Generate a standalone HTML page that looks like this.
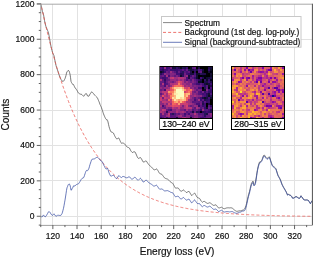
<!DOCTYPE html>
<html><head><meta charset="utf-8"><style>
html,body{margin:0;padding:0;background:#fff;width:313px;height:257px;overflow:hidden}
svg{display:block;font-family:"Liberation Sans",sans-serif;will-change:transform}
text{stroke:#000;stroke-width:0.18px;paint-order:stroke}
</style></head><body>
<svg width="313" height="257" viewBox="0 0 313 257">
<g stroke="#e2e2e2" stroke-width="1" shape-rendering="crispEdges"><line x1="52.85" y1="3.85" x2="52.85" y2="225.10"/><line x1="77.02" y1="3.85" x2="77.02" y2="225.10"/><line x1="101.19" y1="3.85" x2="101.19" y2="225.10"/><line x1="125.36" y1="3.85" x2="125.36" y2="225.10"/><line x1="149.53" y1="3.85" x2="149.53" y2="225.10"/><line x1="173.70" y1="3.85" x2="173.70" y2="225.10"/><line x1="197.87" y1="3.85" x2="197.87" y2="225.10"/><line x1="222.04" y1="3.85" x2="222.04" y2="225.10"/><line x1="246.21" y1="3.85" x2="246.21" y2="225.10"/><line x1="270.38" y1="3.85" x2="270.38" y2="225.10"/><line x1="294.55" y1="3.85" x2="294.55" y2="225.10"/><line x1="40.77" y1="216.25" x2="312.68" y2="216.25"/><line x1="40.77" y1="180.85" x2="312.68" y2="180.85"/><line x1="40.77" y1="145.45" x2="312.68" y2="145.45"/><line x1="40.77" y1="110.05" x2="312.68" y2="110.05"/><line x1="40.77" y1="74.65" x2="312.68" y2="74.65"/><line x1="40.77" y1="39.25" x2="312.68" y2="39.25"/></g><defs><clipPath id="cp"><rect x="40.77" y="3.85" width="271.91" height="221.25"/></clipPath></defs><g clip-path="url(#cp)" fill="none" stroke-linejoin="round"><path d="M40.50,2.74 L41.00,4.83 L41.50,7.27 L42.00,9.69 L42.50,11.66 L43.00,12.98 L43.50,14.52 L44.00,17.45 L44.50,20.36 L45.00,23.05 L45.50,24.95 L46.00,26.70 L46.50,27.91 L47.00,29.10 L47.50,30.28 L48.00,31.51 L48.50,32.91 L49.00,35.37 L49.50,38.10 L50.00,41.02 L50.50,43.84 L51.00,46.40 L51.50,48.64 L52.00,50.55 L52.50,52.44 L53.00,53.60 L53.50,54.64 L54.00,55.78 L54.50,58.30 L55.00,60.87 L55.50,63.44 L56.00,65.44 L56.50,67.29 L57.00,68.75 L57.50,69.94 L58.00,71.65 L58.50,73.23 L59.00,74.63 L59.50,76.01 L60.00,77.13 L60.50,78.25 L61.00,79.47 L61.50,80.10 L62.00,80.95 L62.50,81.26 L63.00,81.21 L63.50,81.18 L64.00,80.58 L64.50,79.58 L65.00,78.60 L65.50,77.15 L66.00,75.41 L66.50,73.14 L67.00,71.59 L67.50,71.28 L68.00,70.58 L68.50,70.49 L69.00,70.92 L69.50,72.31 L70.00,74.22 L70.50,77.30 L71.00,81.37 L71.50,82.56 L72.00,83.25 L72.50,84.22 L73.00,84.80 L73.50,84.60 L74.00,85.65 L74.50,86.74 L75.00,87.89 L75.50,88.22 L76.00,88.91 L76.50,89.66 L77.00,90.41 L77.50,91.37 L78.00,92.33 L78.50,93.09 L79.00,93.50 L79.50,93.74 L80.00,93.97 L80.50,94.18 L81.00,94.24 L81.50,94.38 L82.00,94.67 L82.50,95.24 L83.00,95.76 L83.50,96.25 L84.00,96.05 L84.50,95.24 L85.00,94.47 L85.50,93.78 L86.00,93.50 L86.50,93.72 L87.00,94.84 L87.50,95.95 L88.00,96.34 L88.50,96.23 L89.00,96.09 L89.50,95.01 L90.00,94.08 L90.50,93.40 L91.00,92.69 L91.50,91.95 L92.00,91.85 L92.50,92.45 L93.00,93.05 L93.50,93.66 L94.00,94.30 L94.50,94.98 L95.00,95.40 L95.50,95.90 L96.00,96.39 L96.50,96.86 L97.00,97.31 L97.50,98.07 L98.00,99.28 L98.50,100.48 L99.00,101.67 L99.50,102.88 L100.00,104.46 L100.50,105.49 L101.00,106.57 L101.50,107.77 L102.00,109.28 L102.50,110.67 L103.00,112.36 L103.50,113.88 L104.00,115.11 L104.50,116.28 L105.00,117.40 L105.50,118.40 L106.00,119.29 L106.50,119.72 L107.00,119.43 L107.50,120.31 L108.00,121.94 L108.50,124.25 L109.00,126.49 L109.50,128.24 L110.00,129.67 L110.50,131.05 L111.00,131.86 L111.50,132.05 L112.00,132.20 L112.50,132.41 L113.00,132.66 L113.50,133.13 L114.00,134.30 L114.50,135.40 L115.00,136.42 L115.50,137.37 L116.00,138.30 L116.50,138.70 L117.00,139.03 L117.50,138.66 L118.00,138.36 L118.50,138.07 L119.00,138.22 L119.50,139.38 L120.00,140.55 L120.50,141.72 L121.00,142.75 L121.50,143.24 L122.00,143.19 L122.50,143.02 L123.00,142.97 L123.50,143.20 L124.00,143.43 L124.50,143.81 L125.00,144.37 L125.50,145.05 L126.00,145.73 L126.50,146.41 L127.00,146.99 L127.50,147.20 L128.00,147.38 L128.50,147.52 L129.00,147.83 L129.50,148.17 L130.00,149.14 L130.50,150.25 L131.00,151.07 L131.50,151.69 L132.00,152.28 L132.50,152.51 L133.00,152.21 L133.50,151.91 L134.00,151.84 L134.50,151.84 L135.00,151.88 L135.50,152.86 L136.00,153.94 L136.50,155.08 L137.00,156.30 L137.50,157.48 L138.00,158.13 L138.50,158.38 L139.00,158.17 L139.50,157.93 L140.00,157.66 L140.50,157.57 L141.00,158.23 L141.50,158.93 L142.00,159.92 L142.50,160.88 L143.00,161.83 L143.50,161.96 L144.00,161.91 L144.50,161.74 L145.00,161.36 L145.50,161.00 L146.00,160.85 L146.50,161.26 L147.00,162.05 L147.50,162.83 L148.00,163.61 L148.50,164.39 L149.00,164.94 L149.50,165.43 L150.00,165.86 L150.50,166.27 L151.00,166.67 L151.50,167.07 L152.00,167.62 L152.50,168.20 L153.00,168.81 L153.50,169.43 L154.00,169.88 L154.50,169.83 L155.00,169.71 L155.50,169.50 L156.00,169.22 L156.50,168.90 L157.00,169.23 L157.50,169.93 L158.00,170.72 L158.50,171.61 L159.00,172.56 L159.50,173.31 L160.00,173.66 L160.50,173.83 L161.00,174.01 L161.50,174.20 L162.00,174.40 L162.50,175.16 L163.00,175.88 L163.50,176.55 L164.00,177.22 L164.50,177.89 L165.00,178.27 L165.50,178.45 L166.00,178.62 L166.50,178.78 L167.00,178.92 L167.50,179.12 L168.00,179.54 L168.50,179.97 L169.00,180.39 L169.50,180.81 L170.00,181.45 L170.50,181.88 L171.00,182.24 L171.50,182.60 L172.00,182.90 L172.50,183.18 L173.00,183.71 L173.50,184.66 L174.00,185.60 L174.50,186.54 L175.00,187.36 L175.50,188.14 L176.00,188.11 L176.50,188.07 L177.00,188.01 L177.50,187.95 L178.00,187.94 L178.50,188.35 L179.00,189.04 L179.50,189.73 L180.00,190.42 L180.50,191.07 L181.00,191.44 L181.50,191.16 L182.00,190.87 L182.50,190.55 L183.00,190.22 L183.50,189.90 L184.00,190.26 L184.50,190.78 L185.00,191.29 L185.50,191.80 L186.00,192.31 L186.50,192.51 L187.00,192.25 L187.50,191.99 L188.00,191.74 L188.50,191.49 L189.00,191.27 L189.50,192.12 L190.00,192.92 L190.50,193.74 L191.00,194.57 L191.50,195.40 L192.00,195.50 L192.50,194.99 L193.00,194.44 L193.50,193.90 L194.00,193.35 L194.50,193.02 L195.00,193.54 L195.50,194.43 L196.00,195.33 L196.50,196.25 L197.00,197.16 L197.50,197.54 L198.00,197.78 L198.50,197.99 L199.00,198.20 L199.50,198.41 L200.00,198.94 L200.50,199.95 L201.00,200.86 L201.50,201.36 L202.00,201.84 L202.50,202.29 L203.00,201.91 L203.50,201.51 L204.00,201.32 L204.50,201.44 L205.00,201.56 L205.50,201.95 L206.00,202.52 L206.50,203.09 L207.00,203.35 L207.50,203.41 L208.00,203.41 L208.50,203.20 L209.00,202.99 L209.50,202.75 L210.00,202.90 L210.50,203.12 L211.00,203.50 L211.50,203.92 L212.00,204.34 L212.50,204.74 L213.00,205.14 L213.50,205.36 L214.00,205.31 L214.50,205.26 L215.00,205.09 L215.50,204.92 L216.00,204.80 L216.50,205.43 L217.00,206.07 L217.50,206.73 L218.00,207.33 L218.50,207.93 L219.00,208.07 L219.50,207.90 L220.00,207.73 L220.50,207.55 L221.00,207.34 L221.50,207.22 L222.00,207.58 L222.50,207.90 L223.00,208.20 L223.50,208.50 L224.00,208.80 L224.50,208.71 L225.00,208.53 L225.50,208.34 L226.00,208.16 L226.50,207.97 L227.00,207.86 L227.50,207.84 L228.00,207.83 L228.50,207.81 L229.00,207.81 L229.50,207.90 L230.00,207.81 L230.50,207.79 L231.00,207.82 L231.50,207.89 L232.00,207.98 L232.50,208.29 L233.00,208.73 L233.50,209.18 L234.00,209.63 L234.50,210.07 L235.00,210.49 L235.50,210.76 L236.00,211.03 L236.50,211.27 L237.00,211.50 L237.50,211.25 L238.00,211.12 L238.50,211.02 L239.00,210.92 L239.50,210.82 L240.00,210.79 L240.50,210.87 L241.00,210.72 L241.50,210.57 L242.00,210.41 L242.50,210.21 L243.00,209.92 L243.50,209.90 L244.00,209.44 L244.50,209.02 L245.00,208.28 L245.50,206.98 L246.00,205.43 L246.50,203.70 L247.00,201.44 L247.50,199.18 L248.00,196.92 L248.50,194.85 L249.00,193.14 L249.50,191.43 L250.00,189.22 L250.50,187.01 L251.00,185.03 L251.50,183.15 L252.00,182.45 L252.50,181.75 L253.00,181.05 L253.50,183.42 L254.00,184.64 L254.50,184.14 L255.00,183.65 L255.50,182.09 L256.00,178.93 L256.50,175.75 L257.00,172.26 L257.50,169.41 L258.00,167.00 L258.50,165.04 L259.00,163.38 L259.50,162.04 L260.00,161.77 L260.50,161.50 L261.00,161.23 L261.50,160.55 L262.00,159.73 L262.50,158.32 L263.00,156.94 L263.50,155.56 L264.00,155.08 L264.50,155.19 L265.00,155.87 L265.50,156.69 L266.00,157.33 L266.50,157.85 L267.00,158.37 L267.50,158.34 L268.00,157.76 L268.50,157.18 L269.00,156.61 L269.50,157.10 L270.00,158.30 L270.50,159.96 L271.00,161.51 L271.50,162.98 L272.00,164.45 L272.50,165.45 L273.00,166.04 L273.50,166.43 L274.00,166.82 L274.50,167.21 L275.00,167.61 L275.50,168.09 L276.00,168.84 L276.50,170.46 L277.00,172.08 L277.50,173.70 L278.00,175.21 L278.50,176.12 L279.00,177.00 L279.50,177.88 L280.00,178.82 L280.50,179.99 L281.00,181.31 L281.50,182.84 L282.00,184.16 L282.50,185.16 L283.00,186.15 L283.50,187.15 L284.00,187.86 L284.50,188.75 L285.00,189.64 L285.50,190.53 L286.00,191.38 L286.50,192.43 L287.00,193.61 L287.50,194.78 L288.00,194.73 L288.50,194.15 L289.00,194.62 L289.50,194.83 L290.00,195.04 L290.50,195.25 L291.00,195.54 L291.50,196.14 L292.00,197.02 L292.50,197.98 L293.00,198.09 L293.50,197.99 L294.00,197.88 L294.50,197.56 L295.00,196.89 L295.50,196.73 L296.00,196.71 L296.50,196.68 L297.00,196.65 L297.50,197.42 L298.00,197.75 L298.50,197.97 L299.00,198.18 L299.50,198.29 L300.00,197.68 L300.50,196.70 L301.00,195.72 L301.50,196.80 L302.00,197.46 L302.50,197.65 L303.00,198.53 L303.50,199.42 L304.00,199.64 L304.50,199.86 L305.00,200.08 L305.50,199.99 L306.00,199.82 L306.50,199.91 L307.00,200.00 L307.50,200.09 L308.00,200.24 L308.50,200.47 L309.00,201.42 L309.50,202.37 L310.00,203.32 L310.50,203.46 L311.00,202.47 L311.50,201.48 L312.00,200.72 L312.50,200.30 L313.00,199.89 L313.50,199.95" stroke="#444" stroke-width="0.7"/><path d="M40.50,2.07 L41.50,6.78 L42.50,11.39 L43.50,15.89 L44.50,20.30 L45.50,24.61 L46.50,28.82 L47.50,32.94 L48.50,36.98 L49.50,40.92 L50.50,44.78 L51.50,48.55 L52.50,52.24 L53.50,55.85 L54.50,59.38 L55.50,62.83 L56.50,66.21 L57.50,69.51 L58.50,72.74 L59.50,75.90 L60.50,78.99 L61.50,82.01 L62.50,84.97 L63.50,87.86 L64.50,90.69 L65.50,93.45 L66.50,96.16 L67.50,98.80 L68.50,101.39 L69.50,103.92 L70.50,106.40 L71.50,108.82 L72.50,111.19 L73.50,113.50 L74.50,115.77 L75.50,117.98 L76.50,120.15 L77.50,122.27 L78.50,124.34 L79.50,126.37 L80.50,128.36 L81.50,130.30 L82.50,132.19 L83.50,134.05 L84.50,135.86 L85.50,137.64 L86.50,139.38 L87.50,141.07 L88.50,142.73 L89.50,144.36 L90.50,145.95 L91.50,147.50 L92.50,149.02 L93.50,150.51 L94.50,151.96 L95.50,153.39 L96.50,154.78 L97.50,156.14 L98.50,157.47 L99.50,158.77 L100.50,160.04 L101.50,161.29 L102.50,162.51 L103.50,163.70 L104.50,164.86 L105.50,166.00 L106.50,167.12 L107.50,168.21 L108.50,169.27 L109.50,170.31 L110.50,171.33 L111.50,172.33 L112.50,173.31 L113.50,174.26 L114.50,175.20 L115.50,176.11 L116.50,177.00 L117.50,177.87 L118.50,178.73 L119.50,179.56 L120.50,180.38 L121.50,181.18 L122.50,181.96 L123.50,182.73 L124.50,183.47 L125.50,184.21 L126.50,184.92 L127.50,185.62 L128.50,186.30 L129.50,186.97 L130.50,187.63 L131.50,188.27 L132.50,188.90 L133.50,189.51 L134.50,190.11 L135.50,190.69 L136.50,191.27 L137.50,191.83 L138.50,192.37 L139.50,192.91 L140.50,193.44 L141.50,193.95 L142.50,194.45 L143.50,194.94 L144.50,195.42 L145.50,195.89 L146.50,196.35 L147.50,196.80 L148.50,197.24 L149.50,197.67 L150.50,198.09 L151.50,198.50 L152.50,198.90 L153.50,199.29 L154.50,199.68 L155.50,200.05 L156.50,200.42 L157.50,200.78 L158.50,201.13 L159.50,201.48 L160.50,201.81 L161.50,202.14 L162.50,202.47 L163.50,202.78 L164.50,203.09 L165.50,203.39 L166.50,203.68 L167.50,203.97 L168.50,204.25 L169.50,204.53 L170.50,204.80 L171.50,205.06 L172.50,205.32 L173.50,205.57 L174.50,205.82 L175.50,206.06 L176.50,206.30 L177.50,206.53 L178.50,206.76 L179.50,206.98 L180.50,207.19 L181.50,207.40 L182.50,207.61 L183.50,207.81 L184.50,208.01 L185.50,208.20 L186.50,208.39 L187.50,208.58 L188.50,208.76 L189.50,208.94 L190.50,209.11 L191.50,209.28 L192.50,209.44 L193.50,209.61 L194.50,209.76 L195.50,209.92 L196.50,210.07 L197.50,210.22 L198.50,210.36 L199.50,210.51 L200.50,210.64 L201.50,210.78 L202.50,210.91 L203.50,211.04 L204.50,211.17 L205.50,211.29 L206.50,211.41 L207.50,211.53 L208.50,211.65 L209.50,211.76 L210.50,211.87 L211.50,211.98 L212.50,212.09 L213.50,212.19 L214.50,212.29 L215.50,212.39 L216.50,212.49 L217.50,212.59 L218.50,212.68 L219.50,212.77 L220.50,212.86 L221.50,212.95 L222.50,213.03 L223.50,213.11 L224.50,213.20 L225.50,213.28 L226.50,213.35 L227.50,213.43 L228.50,213.50 L229.50,213.58 L230.50,213.65 L231.50,213.72 L232.50,213.79 L233.50,213.85 L234.50,213.92 L235.50,213.98 L236.50,214.05 L237.50,214.11 L238.50,214.17 L239.50,214.22 L240.50,214.28 L241.50,214.34 L242.50,214.39 L243.50,214.45 L244.50,214.50 L245.50,214.55 L246.50,214.60 L247.50,214.65 L248.50,214.70 L249.50,214.74 L250.50,214.79 L251.50,214.83 L252.50,214.88 L253.50,214.92 L254.50,214.96 L255.50,215.00 L256.50,215.04 L257.50,215.08 L258.50,215.12 L259.50,215.16 L260.50,215.19 L261.50,215.23 L262.50,215.27 L263.50,215.30 L264.50,215.33 L265.50,215.37 L266.50,215.40 L267.50,215.43 L268.50,215.46 L269.50,215.49 L270.50,215.52 L271.50,215.55 L272.50,215.58 L273.50,215.60 L274.50,215.63 L275.50,215.66 L276.50,215.68 L277.50,215.71 L278.50,215.73 L279.50,215.76 L280.50,215.78 L281.50,215.80 L282.50,215.83 L283.50,215.85 L284.50,215.87 L285.50,215.89 L286.50,215.91 L287.50,215.93 L288.50,215.95 L289.50,215.97 L290.50,215.99 L291.50,216.01 L292.50,216.03 L293.50,216.04 L294.50,216.06 L295.50,216.08 L296.50,216.09 L297.50,216.11 L298.50,216.13 L299.50,216.14 L300.50,216.16 L301.50,216.17 L302.50,216.19 L303.50,216.20 L304.50,216.21 L305.50,216.23 L306.50,216.24 L307.50,216.25 L308.50,216.27 L309.50,216.28 L310.50,216.29 L311.50,216.30 L312.50,216.31 L313.50,216.32" stroke="#e8504a" stroke-width="0.75" stroke-dasharray="3.0,2.1"/><path d="M40.50,216.97 L41.00,216.69 L41.50,216.79 L42.00,216.89 L42.50,216.57 L43.00,215.62 L43.50,214.93 L44.00,215.65 L44.50,216.36 L45.00,216.88 L45.50,216.64 L46.00,216.27 L46.50,215.39 L47.00,214.50 L47.50,213.61 L48.00,212.71 L48.50,211.81 L49.00,211.71 L49.50,211.82 L50.00,212.37 L50.50,213.21 L51.00,214.06 L51.50,214.70 L52.00,215.05 L52.50,215.39 L53.00,214.98 L53.50,214.39 L54.00,213.79 L54.50,214.50 L55.00,215.21 L55.50,215.93 L56.00,216.09 L56.50,216.11 L57.00,215.77 L57.50,215.19 L58.00,215.23 L58.50,215.26 L59.00,215.30 L59.50,215.45 L60.00,215.41 L60.50,215.37 L61.00,215.32 L61.50,214.50 L62.00,213.67 L62.50,212.14 L63.00,210.20 L63.50,208.25 L64.00,205.75 L64.50,202.88 L65.00,200.11 L65.50,197.00 L66.00,193.81 L66.50,190.31 L67.00,187.77 L67.50,186.67 L68.00,185.24 L68.50,184.35 L69.00,183.82 L69.50,184.19 L70.00,185.15 L70.50,187.32 L71.00,190.29 L71.50,189.97 L72.00,188.82 L72.50,188.00 L73.00,187.16 L73.50,185.85 L74.00,185.91 L74.50,185.97 L75.00,186.03 L75.50,185.26 L76.00,184.85 L76.50,184.53 L77.00,184.22 L77.50,184.14 L78.00,184.05 L78.50,183.77 L79.00,183.12 L79.50,182.31 L80.00,181.50 L80.50,180.69 L81.00,179.76 L81.50,178.99 L82.00,178.43 L82.50,178.21 L83.00,177.99 L83.50,177.77 L84.00,176.88 L84.50,175.36 L85.00,173.85 L85.50,172.34 L86.00,171.15 L86.50,170.41 L87.00,170.56 L87.50,170.70 L88.00,170.16 L88.50,169.15 L89.00,168.15 L89.50,166.24 L90.00,164.51 L90.50,163.03 L91.00,161.55 L91.50,160.07 L92.00,159.26 L92.50,159.17 L93.00,159.08 L93.50,158.99 L94.00,158.90 L94.50,158.80 L95.00,158.43 L95.50,158.11 L96.00,157.80 L96.50,157.48 L97.00,157.17 L97.50,157.20 L98.00,157.72 L98.50,158.23 L99.00,158.74 L99.50,159.26 L100.00,160.11 L100.50,160.36 L101.00,160.62 L101.50,160.96 L102.00,161.61 L102.50,162.26 L103.00,163.42 L103.50,164.59 L104.00,165.57 L104.50,166.55 L105.00,167.54 L105.50,168.39 L106.00,169.05 L106.50,169.10 L107.00,168.25 L107.50,168.47 L108.00,169.40 L108.50,171.06 L109.00,172.71 L109.50,173.95 L110.00,174.91 L110.50,175.87 L111.00,176.27 L111.50,176.06 L112.00,175.80 L112.50,175.53 L113.00,175.26 L113.50,175.20 L114.00,175.85 L114.50,176.51 L115.00,177.16 L115.50,177.81 L116.00,178.45 L116.50,178.52 L117.00,178.44 L117.50,177.59 L118.00,176.74 L118.50,175.88 L119.00,175.45 L119.50,176.02 L120.00,176.60 L120.50,177.17 L121.00,177.62 L121.50,177.58 L122.00,177.09 L122.50,176.60 L123.00,176.36 L123.50,176.48 L124.00,176.60 L124.50,176.83 L125.00,177.13 L125.50,177.43 L126.00,177.64 L126.50,177.80 L127.00,177.88 L127.50,177.58 L128.00,177.29 L128.50,177.00 L129.00,176.89 L129.50,176.83 L130.00,177.41 L130.50,178.16 L131.00,178.64 L131.50,178.94 L132.00,179.25 L132.50,179.20 L133.00,178.62 L133.50,178.04 L134.00,177.67 L134.50,177.37 L135.00,177.06 L135.50,177.63 L136.00,178.21 L136.50,178.78 L137.00,179.41 L137.50,180.03 L138.00,180.21 L138.50,180.09 L139.00,179.59 L139.50,179.10 L140.00,178.60 L140.50,178.29 L141.00,178.75 L141.50,179.29 L142.00,180.16 L142.50,181.03 L143.00,181.90 L143.50,181.95 L144.00,181.79 L144.50,181.47 L145.00,180.91 L145.50,180.35 L146.00,179.98 L146.50,180.16 L147.00,180.74 L147.50,181.31 L148.00,181.89 L148.50,182.46 L149.00,182.83 L149.50,183.15 L150.00,183.44 L150.50,183.72 L151.00,184.01 L151.50,184.30 L152.00,184.72 L152.50,185.13 L153.00,185.54 L153.50,185.96 L154.00,186.21 L154.50,186.00 L155.00,185.80 L155.50,185.59 L156.00,185.38 L156.50,185.17 L157.00,185.61 L157.50,186.36 L158.00,187.12 L158.50,187.88 L159.00,188.63 L159.50,189.15 L160.00,189.25 L160.50,189.15 L161.00,189.06 L161.50,188.96 L162.00,188.87 L162.50,189.33 L163.00,189.75 L163.50,190.13 L164.00,190.50 L164.50,190.87 L165.00,190.96 L165.50,190.87 L166.00,190.79 L166.50,190.71 L167.00,190.64 L167.50,190.62 L168.00,190.84 L168.50,191.05 L169.00,191.27 L169.50,191.48 L170.00,191.92 L170.50,192.16 L171.00,192.33 L171.50,192.50 L172.00,192.63 L172.50,192.75 L173.00,193.14 L173.50,193.94 L174.00,194.74 L174.50,195.54 L175.00,196.22 L175.50,196.86 L176.00,196.71 L176.50,196.55 L177.00,196.39 L177.50,196.24 L178.00,196.15 L178.50,196.48 L179.00,197.09 L179.50,197.70 L180.00,198.31 L180.50,198.89 L181.00,199.18 L181.50,198.84 L182.00,198.49 L182.50,198.14 L183.00,197.80 L183.50,197.48 L184.00,197.85 L184.50,198.38 L185.00,198.91 L185.50,199.43 L186.00,199.96 L186.50,200.18 L187.00,199.95 L187.50,199.71 L188.00,199.48 L188.50,199.24 L189.00,199.01 L189.50,199.82 L190.00,200.56 L190.50,201.31 L191.00,202.05 L191.50,202.79 L192.00,202.80 L192.50,202.20 L193.00,201.57 L193.50,200.94 L194.00,200.31 L194.50,199.89 L195.00,200.29 L195.50,201.03 L196.00,201.78 L196.50,202.52 L197.00,203.27 L197.50,203.47 L198.00,203.54 L198.50,203.58 L199.00,203.62 L199.50,203.67 L200.00,204.03 L200.50,204.87 L201.00,205.62 L201.50,205.98 L202.00,206.33 L202.50,206.69 L203.00,206.22 L203.50,205.75 L204.00,205.48 L204.50,205.53 L205.00,205.57 L205.50,205.89 L206.00,206.40 L206.50,206.90 L207.00,207.09 L207.50,207.07 L208.00,207.01 L208.50,206.74 L209.00,206.47 L209.50,206.20 L210.00,206.36 L210.50,206.62 L211.00,207.06 L211.50,207.55 L212.00,208.04 L212.50,208.52 L213.00,208.99 L213.50,209.29 L214.00,209.31 L214.50,209.32 L215.00,209.21 L215.50,209.05 L216.00,208.90 L216.50,209.44 L217.00,209.98 L217.50,210.53 L218.00,211.01 L218.50,211.50 L219.00,211.52 L219.50,211.24 L220.00,210.95 L220.50,210.67 L221.00,210.38 L221.50,210.23 L222.00,210.59 L222.50,210.96 L223.00,211.32 L223.50,211.69 L224.00,212.06 L224.50,212.04 L225.00,211.92 L225.50,211.81 L226.00,211.70 L226.50,211.58 L227.00,211.54 L227.50,211.60 L228.00,211.66 L228.50,211.72 L229.00,211.78 L229.50,211.91 L230.00,211.83 L230.50,211.75 L231.00,211.67 L231.50,211.59 L232.00,211.51 L232.50,211.64 L233.00,211.91 L233.50,212.19 L234.00,212.46 L234.50,212.73 L235.00,212.98 L235.50,213.09 L236.00,213.21 L236.50,213.33 L237.00,213.44 L237.50,213.09 L238.00,212.85 L238.50,212.65 L239.00,212.45 L239.50,212.25 L240.00,212.11 L240.50,212.09 L241.00,211.84 L241.50,211.60 L242.00,211.35 L242.50,211.10 L243.00,210.85 L243.50,211.02 L244.00,210.83 L244.50,210.63 L245.00,210.00 L245.50,208.72 L246.00,207.15 L246.50,205.40 L247.00,203.12 L247.50,200.83 L248.00,198.55 L248.50,196.45 L249.00,194.72 L249.50,192.99 L250.00,190.75 L250.50,188.52 L251.00,186.52 L251.50,184.62 L252.00,183.90 L252.50,183.18 L253.00,182.45 L253.50,184.80 L254.00,186.00 L254.50,185.48 L255.00,184.97 L255.50,183.38 L256.00,180.20 L256.50,177.01 L257.00,173.50 L257.50,170.63 L258.00,168.20 L258.50,166.22 L259.00,164.54 L259.50,163.18 L260.00,162.89 L260.50,162.60 L261.00,162.31 L261.50,161.62 L262.00,160.78 L262.50,159.36 L263.00,157.96 L263.50,156.56 L264.00,156.06 L264.50,156.16 L265.00,156.82 L265.50,157.63 L266.00,158.25 L266.50,158.75 L267.00,159.25 L267.50,159.21 L268.00,158.61 L268.50,158.02 L269.00,157.43 L269.50,157.91 L270.00,159.10 L270.50,160.74 L271.00,162.27 L271.50,163.73 L272.00,165.19 L272.50,166.17 L273.00,166.75 L273.50,167.12 L274.00,167.50 L274.50,167.88 L275.00,168.27 L275.50,168.73 L276.00,169.47 L276.50,171.08 L277.00,172.69 L277.50,174.30 L278.00,175.79 L278.50,176.69 L279.00,177.56 L279.50,178.43 L280.00,179.35 L280.50,180.51 L281.00,181.81 L281.50,183.34 L282.00,184.64 L282.50,185.63 L283.00,186.61 L283.50,187.60 L284.00,188.30 L284.50,189.18 L285.00,190.06 L285.50,190.94 L286.00,191.78 L286.50,192.82 L287.00,193.98 L287.50,195.15 L288.00,195.09 L288.50,194.50 L289.00,194.96 L289.50,195.16 L290.00,195.36 L290.50,195.56 L291.00,195.84 L291.50,196.43 L292.00,197.31 L292.50,198.25 L293.00,198.35 L293.50,198.24 L294.00,198.13 L294.50,197.79 L295.00,197.12 L295.50,196.96 L296.00,196.92 L296.50,196.89 L297.00,196.85 L297.50,197.61 L298.00,197.93 L298.50,198.14 L299.00,198.35 L299.50,198.45 L300.00,197.83 L300.50,196.84 L301.00,195.86 L301.50,196.93 L302.00,197.58 L302.50,197.76 L303.00,198.64 L303.50,199.52 L304.00,199.73 L304.50,199.95 L305.00,200.16 L305.50,200.06 L306.00,199.89 L306.50,199.97 L307.00,200.06 L307.50,200.14 L308.00,200.28 L308.50,200.50 L309.00,201.45 L309.50,202.39 L310.00,203.34 L310.50,203.47 L311.00,202.47 L311.50,201.48 L312.00,200.71 L312.50,200.29 L313.00,199.87 L313.50,199.93" stroke="#3a4fa3" stroke-width="0.75"/></g><line x1="36.77" y1="4.2" x2="312.68" y2="4.2" stroke="#a8a8a8"/><line x1="40.77" y1="225.4" x2="312.68" y2="225.4" stroke="#a0a0a0"/><line x1="40.77" y1="3.35" x2="40.77" y2="225.60" stroke="#a0a0a0"/><line x1="312.5" y1="3.85" x2="312.5" y2="225.10" stroke="#606060" stroke-width="1.2"/><g stroke="#505050" stroke-width="0.9"><line x1="40.77" y1="225.10" x2="40.77" y2="227.10"/><line x1="52.85" y1="225.10" x2="52.85" y2="229.10"/><line x1="64.94" y1="225.10" x2="64.94" y2="227.10"/><line x1="77.02" y1="225.10" x2="77.02" y2="229.10"/><line x1="89.10" y1="225.10" x2="89.10" y2="227.10"/><line x1="101.19" y1="225.10" x2="101.19" y2="229.10"/><line x1="113.28" y1="225.10" x2="113.28" y2="227.10"/><line x1="125.36" y1="225.10" x2="125.36" y2="229.10"/><line x1="137.44" y1="225.10" x2="137.44" y2="227.10"/><line x1="149.53" y1="225.10" x2="149.53" y2="229.10"/><line x1="161.61" y1="225.10" x2="161.61" y2="227.10"/><line x1="173.70" y1="225.10" x2="173.70" y2="229.10"/><line x1="185.78" y1="225.10" x2="185.78" y2="227.10"/><line x1="197.87" y1="225.10" x2="197.87" y2="229.10"/><line x1="209.95" y1="225.10" x2="209.95" y2="227.10"/><line x1="222.04" y1="225.10" x2="222.04" y2="229.10"/><line x1="234.12" y1="225.10" x2="234.12" y2="227.10"/><line x1="246.21" y1="225.10" x2="246.21" y2="229.10"/><line x1="258.30" y1="225.10" x2="258.30" y2="227.10"/><line x1="270.38" y1="225.10" x2="270.38" y2="229.10"/><line x1="282.46" y1="225.10" x2="282.46" y2="227.10"/><line x1="294.55" y1="225.10" x2="294.55" y2="229.10"/><line x1="306.63" y1="225.10" x2="306.63" y2="227.10"/><line x1="38.77" y1="225.10" x2="40.77" y2="225.10"/><line x1="36.77" y1="216.25" x2="40.77" y2="216.25"/><line x1="38.77" y1="207.40" x2="40.77" y2="207.40"/><line x1="38.77" y1="198.55" x2="40.77" y2="198.55"/><line x1="38.77" y1="189.70" x2="40.77" y2="189.70"/><line x1="36.77" y1="180.85" x2="40.77" y2="180.85"/><line x1="38.77" y1="172.00" x2="40.77" y2="172.00"/><line x1="38.77" y1="163.15" x2="40.77" y2="163.15"/><line x1="38.77" y1="154.30" x2="40.77" y2="154.30"/><line x1="36.77" y1="145.45" x2="40.77" y2="145.45"/><line x1="38.77" y1="136.60" x2="40.77" y2="136.60"/><line x1="38.77" y1="127.75" x2="40.77" y2="127.75"/><line x1="38.77" y1="118.90" x2="40.77" y2="118.90"/><line x1="36.77" y1="110.05" x2="40.77" y2="110.05"/><line x1="38.77" y1="101.20" x2="40.77" y2="101.20"/><line x1="38.77" y1="92.35" x2="40.77" y2="92.35"/><line x1="38.77" y1="83.50" x2="40.77" y2="83.50"/><line x1="36.77" y1="74.65" x2="40.77" y2="74.65"/><line x1="38.77" y1="65.80" x2="40.77" y2="65.80"/><line x1="38.77" y1="56.95" x2="40.77" y2="56.95"/><line x1="38.77" y1="48.10" x2="40.77" y2="48.10"/><line x1="36.77" y1="39.25" x2="40.77" y2="39.25"/><line x1="38.77" y1="30.40" x2="40.77" y2="30.40"/><line x1="38.77" y1="21.55" x2="40.77" y2="21.55"/><line x1="38.77" y1="12.70" x2="40.77" y2="12.70"/><line x1="36.77" y1="3.85" x2="40.77" y2="3.85"/></g><g font-size="8.5" fill="#111"><text x="34.4" y="219.00" text-anchor="end">0</text><text x="34.4" y="183.60" text-anchor="end">200</text><text x="34.4" y="148.20" text-anchor="end">400</text><text x="34.4" y="112.80" text-anchor="end">600</text><text x="34.4" y="77.40" text-anchor="end">800</text><text x="34.4" y="42.00" text-anchor="end">1000</text><text x="34.4" y="6.60" text-anchor="end">1200</text><text x="52.85" y="238.5" text-anchor="middle">120</text><text x="77.02" y="238.5" text-anchor="middle">140</text><text x="101.19" y="238.5" text-anchor="middle">160</text><text x="125.36" y="238.5" text-anchor="middle">180</text><text x="149.53" y="238.5" text-anchor="middle">200</text><text x="173.70" y="238.5" text-anchor="middle">220</text><text x="197.87" y="238.5" text-anchor="middle">240</text><text x="222.04" y="238.5" text-anchor="middle">260</text><text x="246.21" y="238.5" text-anchor="middle">280</text><text x="270.38" y="238.5" text-anchor="middle">300</text><text x="294.55" y="238.5" text-anchor="middle">320</text></g><text x="177" y="254.8" text-anchor="middle" font-size="10.1" fill="#111">Energy loss (eV)</text><text transform="translate(9.0,114.6) rotate(-90)" text-anchor="middle" font-size="10" fill="#111">Counts</text><rect x="161.5" y="16.5" width="139.5" height="30.7" fill="#fff" stroke="#c8c8c8" stroke-width="1"/><line x1="163" y1="22.6" x2="182" y2="22.6" stroke="#555" stroke-width="0.7"/><line x1="163" y1="32.4" x2="182" y2="32.4" stroke="#e8504a" stroke-width="0.8" stroke-dasharray="3.0,2.1"/><line x1="163" y1="42.3" x2="182" y2="42.3" stroke="#3a4fa3" stroke-width="0.75"/><g font-size="8.3" fill="#111"><text x="184.5" y="25.5">Spectrum</text><text x="184.5" y="35.4">Background (1st deg. log-poly.)</text><text x="184.5" y="45.3">Signal (background-subtracted)</text></g><defs><filter id="hb" x="-5%" y="-5%" width="110%" height="110%"><feGaussianBlur stdDeviation="0.45"/></filter><clipPath id="hc5"><rect x="160" y="67" width="52" height="52"/></clipPath><clipPath id="hc7"><rect x="232" y="67" width="52" height="52"/></clipPath></defs><rect x="159" y="66" width="54" height="64" fill="#fff"/><g clip-path="url(#hc5)"><g shape-rendering="crispEdges" filter="url(#hb)"><rect x="160" y="67" width="2" height="2" fill="#4e117b"/><rect x="162" y="67" width="2" height="2" fill="#390f6e"/><rect x="164" y="67" width="2" height="2" fill="#982d80"/><rect x="166" y="67" width="2" height="2" fill="#3b0f70"/><rect x="168" y="67" width="2" height="2" fill="#471078"/><rect x="170" y="67" width="2" height="2" fill="#721f81"/><rect x="172" y="67" width="2" height="2" fill="#180f3d"/><rect x="174" y="67" width="2" height="2" fill="#19103f"/><rect x="176" y="67" width="2" height="2" fill="#36106b"/><rect x="178" y="67" width="2" height="2" fill="#21114e"/><rect x="180" y="67" width="2" height="2" fill="#08071e"/><rect x="182" y="67" width="2" height="2" fill="#241253"/><rect x="184" y="67" width="2" height="2" fill="#21114e"/><rect x="186" y="67" width="2" height="2" fill="#3f0f72"/><rect x="188" y="67" width="2" height="2" fill="#000004"/><rect x="190" y="67" width="2" height="2" fill="#090720"/><rect x="192" y="67" width="2" height="2" fill="#56147d"/><rect x="194" y="67" width="2" height="2" fill="#651a80"/><rect x="196" y="67" width="2" height="2" fill="#000004"/><rect x="198" y="67" width="2" height="2" fill="#20114b"/><rect x="200" y="67" width="2" height="2" fill="#000004"/><rect x="202" y="67" width="2" height="2" fill="#000004"/><rect x="204" y="67" width="2" height="2" fill="#000004"/><rect x="206" y="67" width="2" height="2" fill="#000004"/><rect x="208" y="67" width="2" height="2" fill="#221150"/><rect x="210" y="67" width="2" height="2" fill="#180f3d"/><rect x="160" y="69" width="2" height="2" fill="#38106c"/><rect x="162" y="69" width="2" height="2" fill="#2a115c"/><rect x="164" y="69" width="2" height="2" fill="#451077"/><rect x="166" y="69" width="2" height="2" fill="#440f76"/><rect x="168" y="69" width="2" height="2" fill="#5a167e"/><rect x="170" y="69" width="2" height="2" fill="#3d0f71"/><rect x="172" y="69" width="2" height="2" fill="#3b0f70"/><rect x="174" y="69" width="2" height="2" fill="#36106b"/><rect x="176" y="69" width="2" height="2" fill="#390f6e"/><rect x="178" y="69" width="2" height="2" fill="#471078"/><rect x="180" y="69" width="2" height="2" fill="#420f75"/><rect x="182" y="69" width="2" height="2" fill="#621980"/><rect x="184" y="69" width="2" height="2" fill="#400f74"/><rect x="186" y="69" width="2" height="2" fill="#6b1d81"/><rect x="188" y="69" width="2" height="2" fill="#241253"/><rect x="190" y="69" width="2" height="2" fill="#150e38"/><rect x="192" y="69" width="2" height="2" fill="#20114b"/><rect x="194" y="69" width="2" height="2" fill="#36106b"/><rect x="196" y="69" width="2" height="2" fill="#1c1044"/><rect x="198" y="69" width="2" height="2" fill="#51127c"/><rect x="200" y="69" width="2" height="2" fill="#440f76"/><rect x="202" y="69" width="2" height="2" fill="#160f3b"/><rect x="204" y="69" width="2" height="2" fill="#010005"/><rect x="206" y="69" width="2" height="2" fill="#03030f"/><rect x="208" y="69" width="2" height="2" fill="#331067"/><rect x="210" y="69" width="2" height="2" fill="#0c0926"/><rect x="160" y="71" width="2" height="2" fill="#0b0924"/><rect x="162" y="71" width="2" height="2" fill="#1e1149"/><rect x="164" y="71" width="2" height="2" fill="#390f6e"/><rect x="166" y="71" width="2" height="2" fill="#6e1e81"/><rect x="168" y="71" width="2" height="2" fill="#5a167e"/><rect x="170" y="71" width="2" height="2" fill="#9c2e7f"/><rect x="172" y="71" width="2" height="2" fill="#701f81"/><rect x="174" y="71" width="2" height="2" fill="#52137c"/><rect x="176" y="71" width="2" height="2" fill="#390f6e"/><rect x="178" y="71" width="2" height="2" fill="#651a80"/><rect x="180" y="71" width="2" height="2" fill="#390f6e"/><rect x="182" y="71" width="2" height="2" fill="#271258"/><rect x="184" y="71" width="2" height="2" fill="#56147d"/><rect x="186" y="71" width="2" height="2" fill="#491078"/><rect x="188" y="71" width="2" height="2" fill="#5f187f"/><rect x="190" y="71" width="2" height="2" fill="#20114b"/><rect x="192" y="71" width="2" height="2" fill="#000004"/><rect x="194" y="71" width="2" height="2" fill="#2d1161"/><rect x="196" y="71" width="2" height="2" fill="#000004"/><rect x="198" y="71" width="2" height="2" fill="#54137d"/><rect x="200" y="71" width="2" height="2" fill="#621980"/><rect x="202" y="71" width="2" height="2" fill="#0b0924"/><rect x="204" y="71" width="2" height="2" fill="#000004"/><rect x="206" y="71" width="2" height="2" fill="#000004"/><rect x="208" y="71" width="2" height="2" fill="#150e38"/><rect x="210" y="71" width="2" height="2" fill="#040414"/><rect x="160" y="73" width="2" height="2" fill="#29115a"/><rect x="162" y="73" width="2" height="2" fill="#471078"/><rect x="164" y="73" width="2" height="2" fill="#912b81"/><rect x="166" y="73" width="2" height="2" fill="#762181"/><rect x="168" y="73" width="2" height="2" fill="#6d1d81"/><rect x="170" y="73" width="2" height="2" fill="#832681"/><rect x="172" y="73" width="2" height="2" fill="#842681"/><rect x="174" y="73" width="2" height="2" fill="#792282"/><rect x="176" y="73" width="2" height="2" fill="#400f74"/><rect x="178" y="73" width="2" height="2" fill="#451077"/><rect x="180" y="73" width="2" height="2" fill="#221150"/><rect x="182" y="73" width="2" height="2" fill="#2a115c"/><rect x="184" y="73" width="2" height="2" fill="#721f81"/><rect x="186" y="73" width="2" height="2" fill="#440f76"/><rect x="188" y="73" width="2" height="2" fill="#36106b"/><rect x="190" y="73" width="2" height="2" fill="#1c1044"/><rect x="192" y="73" width="2" height="2" fill="#180f3d"/><rect x="194" y="73" width="2" height="2" fill="#471078"/><rect x="196" y="73" width="2" height="2" fill="#0e0b2b"/><rect x="198" y="73" width="2" height="2" fill="#0e0b2b"/><rect x="200" y="73" width="2" height="2" fill="#271258"/><rect x="202" y="73" width="2" height="2" fill="#21114e"/><rect x="204" y="73" width="2" height="2" fill="#20114b"/><rect x="206" y="73" width="2" height="2" fill="#03030f"/><rect x="208" y="73" width="2" height="2" fill="#000004"/><rect x="210" y="73" width="2" height="2" fill="#120d31"/><rect x="160" y="75" width="2" height="2" fill="#601880"/><rect x="162" y="75" width="2" height="2" fill="#6e1e81"/><rect x="164" y="75" width="2" height="2" fill="#4c117a"/><rect x="166" y="75" width="2" height="2" fill="#a6317d"/><rect x="168" y="75" width="2" height="2" fill="#451077"/><rect x="170" y="75" width="2" height="2" fill="#802582"/><rect x="172" y="75" width="2" height="2" fill="#752181"/><rect x="174" y="75" width="2" height="2" fill="#601880"/><rect x="176" y="75" width="2" height="2" fill="#7e2482"/><rect x="178" y="75" width="2" height="2" fill="#59157e"/><rect x="180" y="75" width="2" height="2" fill="#100b2d"/><rect x="182" y="75" width="2" height="2" fill="#2d1161"/><rect x="184" y="75" width="2" height="2" fill="#782281"/><rect x="186" y="75" width="2" height="2" fill="#982d80"/><rect x="188" y="75" width="2" height="2" fill="#180f3d"/><rect x="190" y="75" width="2" height="2" fill="#420f75"/><rect x="192" y="75" width="2" height="2" fill="#6e1e81"/><rect x="194" y="75" width="2" height="2" fill="#4f127b"/><rect x="196" y="75" width="2" height="2" fill="#130d34"/><rect x="198" y="75" width="2" height="2" fill="#000004"/><rect x="200" y="75" width="2" height="2" fill="#000004"/><rect x="202" y="75" width="2" height="2" fill="#030312"/><rect x="204" y="75" width="2" height="2" fill="#03030f"/><rect x="206" y="75" width="2" height="2" fill="#000004"/><rect x="208" y="75" width="2" height="2" fill="#000004"/><rect x="210" y="75" width="2" height="2" fill="#110c2f"/><rect x="160" y="77" width="2" height="2" fill="#4f127b"/><rect x="162" y="77" width="2" height="2" fill="#3d0f71"/><rect x="164" y="77" width="2" height="2" fill="#3d0f71"/><rect x="166" y="77" width="2" height="2" fill="#4f127b"/><rect x="168" y="77" width="2" height="2" fill="#842681"/><rect x="170" y="77" width="2" height="2" fill="#bc3978"/><rect x="172" y="77" width="2" height="2" fill="#ca3e72"/><rect x="174" y="77" width="2" height="2" fill="#9c2e7f"/><rect x="176" y="77" width="2" height="2" fill="#9e2f7f"/><rect x="178" y="77" width="2" height="2" fill="#b83779"/><rect x="180" y="77" width="2" height="2" fill="#b3367a"/><rect x="182" y="77" width="2" height="2" fill="#ae347b"/><rect x="184" y="77" width="2" height="2" fill="#992d80"/><rect x="186" y="77" width="2" height="2" fill="#4e117b"/><rect x="188" y="77" width="2" height="2" fill="#1a1042"/><rect x="190" y="77" width="2" height="2" fill="#641a80"/><rect x="192" y="77" width="2" height="2" fill="#54137d"/><rect x="194" y="77" width="2" height="2" fill="#390f6e"/><rect x="196" y="77" width="2" height="2" fill="#100b2d"/><rect x="198" y="77" width="2" height="2" fill="#03030f"/><rect x="200" y="77" width="2" height="2" fill="#451077"/><rect x="202" y="77" width="2" height="2" fill="#1e1149"/><rect x="204" y="77" width="2" height="2" fill="#02020d"/><rect x="206" y="77" width="2" height="2" fill="#110c2f"/><rect x="208" y="77" width="2" height="2" fill="#180f3d"/><rect x="210" y="77" width="2" height="2" fill="#1d1147"/><rect x="160" y="79" width="2" height="2" fill="#b2357b"/><rect x="162" y="79" width="2" height="2" fill="#5d177f"/><rect x="164" y="79" width="2" height="2" fill="#2d1161"/><rect x="166" y="79" width="2" height="2" fill="#601880"/><rect x="168" y="79" width="2" height="2" fill="#671b80"/><rect x="170" y="79" width="2" height="2" fill="#962c80"/><rect x="172" y="79" width="2" height="2" fill="#962c80"/><rect x="174" y="79" width="2" height="2" fill="#992d80"/><rect x="176" y="79" width="2" height="2" fill="#882781"/><rect x="178" y="79" width="2" height="2" fill="#ab337c"/><rect x="180" y="79" width="2" height="2" fill="#912b81"/><rect x="182" y="79" width="2" height="2" fill="#a1307e"/><rect x="184" y="79" width="2" height="2" fill="#732081"/><rect x="186" y="79" width="2" height="2" fill="#4e117b"/><rect x="188" y="79" width="2" height="2" fill="#6a1c81"/><rect x="190" y="79" width="2" height="2" fill="#4f127b"/><rect x="192" y="79" width="2" height="2" fill="#862781"/><rect x="194" y="79" width="2" height="2" fill="#601880"/><rect x="196" y="79" width="2" height="2" fill="#4a1079"/><rect x="198" y="79" width="2" height="2" fill="#29115a"/><rect x="200" y="79" width="2" height="2" fill="#1d1147"/><rect x="202" y="79" width="2" height="2" fill="#000004"/><rect x="204" y="79" width="2" height="2" fill="#331067"/><rect x="206" y="79" width="2" height="2" fill="#0c0926"/><rect x="208" y="79" width="2" height="2" fill="#341069"/><rect x="210" y="79" width="2" height="2" fill="#06051a"/><rect x="160" y="81" width="2" height="2" fill="#671b80"/><rect x="162" y="81" width="2" height="2" fill="#641a80"/><rect x="164" y="81" width="2" height="2" fill="#3d0f71"/><rect x="166" y="81" width="2" height="2" fill="#681c81"/><rect x="168" y="81" width="2" height="2" fill="#8c2981"/><rect x="170" y="81" width="2" height="2" fill="#832681"/><rect x="172" y="81" width="2" height="2" fill="#6d1d81"/><rect x="174" y="81" width="2" height="2" fill="#902a81"/><rect x="176" y="81" width="2" height="2" fill="#b83779"/><rect x="178" y="81" width="2" height="2" fill="#e85362"/><rect x="180" y="81" width="2" height="2" fill="#d3436e"/><rect x="182" y="81" width="2" height="2" fill="#ae347b"/><rect x="184" y="81" width="2" height="2" fill="#782281"/><rect x="186" y="81" width="2" height="2" fill="#9c2e7f"/><rect x="188" y="81" width="2" height="2" fill="#7e2482"/><rect x="190" y="81" width="2" height="2" fill="#6a1c81"/><rect x="192" y="81" width="2" height="2" fill="#832681"/><rect x="194" y="81" width="2" height="2" fill="#6d1d81"/><rect x="196" y="81" width="2" height="2" fill="#52137c"/><rect x="198" y="81" width="2" height="2" fill="#110c2f"/><rect x="200" y="81" width="2" height="2" fill="#110c2f"/><rect x="202" y="81" width="2" height="2" fill="#000004"/><rect x="204" y="81" width="2" height="2" fill="#21114e"/><rect x="206" y="81" width="2" height="2" fill="#1c1044"/><rect x="208" y="81" width="2" height="2" fill="#3d0f71"/><rect x="210" y="81" width="2" height="2" fill="#21114e"/><rect x="160" y="83" width="2" height="2" fill="#621980"/><rect x="162" y="83" width="2" height="2" fill="#b3367a"/><rect x="164" y="83" width="2" height="2" fill="#4e117b"/><rect x="166" y="83" width="2" height="2" fill="#52137c"/><rect x="168" y="83" width="2" height="2" fill="#792282"/><rect x="170" y="83" width="2" height="2" fill="#b0357b"/><rect x="172" y="83" width="2" height="2" fill="#aa337d"/><rect x="174" y="83" width="2" height="2" fill="#b73779"/><rect x="176" y="83" width="2" height="2" fill="#bd3977"/><rect x="178" y="83" width="2" height="2" fill="#f97b5d"/><rect x="180" y="83" width="2" height="2" fill="#cc3f71"/><rect x="182" y="83" width="2" height="2" fill="#a1307e"/><rect x="184" y="83" width="2" height="2" fill="#a02f7f"/><rect x="186" y="83" width="2" height="2" fill="#862781"/><rect x="188" y="83" width="2" height="2" fill="#862781"/><rect x="190" y="83" width="2" height="2" fill="#a8327d"/><rect x="192" y="83" width="2" height="2" fill="#641a80"/><rect x="194" y="83" width="2" height="2" fill="#5c167f"/><rect x="196" y="83" width="2" height="2" fill="#420f75"/><rect x="198" y="83" width="2" height="2" fill="#390f6e"/><rect x="200" y="83" width="2" height="2" fill="#57157e"/><rect x="202" y="83" width="2" height="2" fill="#3f0f72"/><rect x="204" y="83" width="2" height="2" fill="#19103f"/><rect x="206" y="83" width="2" height="2" fill="#0a0822"/><rect x="208" y="83" width="2" height="2" fill="#19103f"/><rect x="210" y="83" width="2" height="2" fill="#3b0f70"/><rect x="160" y="85" width="2" height="2" fill="#721f81"/><rect x="162" y="85" width="2" height="2" fill="#752181"/><rect x="164" y="85" width="2" height="2" fill="#491078"/><rect x="166" y="85" width="2" height="2" fill="#a02f7f"/><rect x="168" y="85" width="2" height="2" fill="#701f81"/><rect x="170" y="85" width="2" height="2" fill="#942c80"/><rect x="172" y="85" width="2" height="2" fill="#d3436e"/><rect x="174" y="85" width="2" height="2" fill="#f4695c"/><rect x="176" y="85" width="2" height="2" fill="#f8765c"/><rect x="178" y="85" width="2" height="2" fill="#f66c5c"/><rect x="180" y="85" width="2" height="2" fill="#f4695c"/><rect x="182" y="85" width="2" height="2" fill="#db476a"/><rect x="184" y="85" width="2" height="2" fill="#942c80"/><rect x="186" y="85" width="2" height="2" fill="#a6317d"/><rect x="188" y="85" width="2" height="2" fill="#912b81"/><rect x="190" y="85" width="2" height="2" fill="#982d80"/><rect x="192" y="85" width="2" height="2" fill="#762181"/><rect x="194" y="85" width="2" height="2" fill="#842681"/><rect x="196" y="85" width="2" height="2" fill="#762181"/><rect x="198" y="85" width="2" height="2" fill="#6b1d81"/><rect x="200" y="85" width="2" height="2" fill="#721f81"/><rect x="202" y="85" width="2" height="2" fill="#4a1079"/><rect x="204" y="85" width="2" height="2" fill="#2c115f"/><rect x="206" y="85" width="2" height="2" fill="#52137c"/><rect x="208" y="85" width="2" height="2" fill="#08071e"/><rect x="210" y="85" width="2" height="2" fill="#21114e"/><rect x="160" y="87" width="2" height="2" fill="#932b80"/><rect x="162" y="87" width="2" height="2" fill="#7b2382"/><rect x="164" y="87" width="2" height="2" fill="#912b81"/><rect x="166" y="87" width="2" height="2" fill="#902a81"/><rect x="168" y="87" width="2" height="2" fill="#a1307e"/><rect x="170" y="87" width="2" height="2" fill="#e95462"/><rect x="172" y="87" width="2" height="2" fill="#fc9065"/><rect x="174" y="87" width="2" height="2" fill="#fecd90"/><rect x="176" y="87" width="2" height="2" fill="#fec88c"/><rect x="178" y="87" width="2" height="2" fill="#fed395"/><rect x="180" y="87" width="2" height="2" fill="#fde0a1"/><rect x="182" y="87" width="2" height="2" fill="#feac76"/><rect x="184" y="87" width="2" height="2" fill="#d5446d"/><rect x="186" y="87" width="2" height="2" fill="#ca3e72"/><rect x="188" y="87" width="2" height="2" fill="#e55064"/><rect x="190" y="87" width="2" height="2" fill="#882781"/><rect x="192" y="87" width="2" height="2" fill="#942c80"/><rect x="194" y="87" width="2" height="2" fill="#6b1d81"/><rect x="196" y="87" width="2" height="2" fill="#7c2382"/><rect x="198" y="87" width="2" height="2" fill="#400f74"/><rect x="200" y="87" width="2" height="2" fill="#440f76"/><rect x="202" y="87" width="2" height="2" fill="#010005"/><rect x="204" y="87" width="2" height="2" fill="#241253"/><rect x="206" y="87" width="2" height="2" fill="#5c167f"/><rect x="208" y="87" width="2" height="2" fill="#06051a"/><rect x="210" y="87" width="2" height="2" fill="#4e117b"/><rect x="160" y="89" width="2" height="2" fill="#671b80"/><rect x="162" y="89" width="2" height="2" fill="#7c2382"/><rect x="164" y="89" width="2" height="2" fill="#440f76"/><rect x="166" y="89" width="2" height="2" fill="#c73d73"/><rect x="168" y="89" width="2" height="2" fill="#bf3a77"/><rect x="170" y="89" width="2" height="2" fill="#e24d66"/><rect x="172" y="89" width="2" height="2" fill="#ef5d5e"/><rect x="174" y="89" width="2" height="2" fill="#fea973"/><rect x="176" y="89" width="2" height="2" fill="#fcfdbf"/><rect x="178" y="89" width="2" height="2" fill="#fcfdbf"/><rect x="180" y="89" width="2" height="2" fill="#fcfdbf"/><rect x="182" y="89" width="2" height="2" fill="#fed799"/><rect x="184" y="89" width="2" height="2" fill="#fc9065"/><rect x="186" y="89" width="2" height="2" fill="#e55064"/><rect x="188" y="89" width="2" height="2" fill="#ee5b5e"/><rect x="190" y="89" width="2" height="2" fill="#f8745c"/><rect x="192" y="89" width="2" height="2" fill="#b0357b"/><rect x="194" y="89" width="2" height="2" fill="#832681"/><rect x="196" y="89" width="2" height="2" fill="#601880"/><rect x="198" y="89" width="2" height="2" fill="#782281"/><rect x="200" y="89" width="2" height="2" fill="#721f81"/><rect x="202" y="89" width="2" height="2" fill="#07061c"/><rect x="204" y="89" width="2" height="2" fill="#0c0926"/><rect x="206" y="89" width="2" height="2" fill="#802582"/><rect x="208" y="89" width="2" height="2" fill="#420f75"/><rect x="210" y="89" width="2" height="2" fill="#36106b"/><rect x="160" y="91" width="2" height="2" fill="#932b80"/><rect x="162" y="91" width="2" height="2" fill="#b73779"/><rect x="164" y="91" width="2" height="2" fill="#bc3978"/><rect x="166" y="91" width="2" height="2" fill="#c23b75"/><rect x="168" y="91" width="2" height="2" fill="#fd9467"/><rect x="170" y="91" width="2" height="2" fill="#f8745c"/><rect x="172" y="91" width="2" height="2" fill="#fb835f"/><rect x="174" y="91" width="2" height="2" fill="#fecd90"/><rect x="176" y="91" width="2" height="2" fill="#fcfdbf"/><rect x="178" y="91" width="2" height="2" fill="#fcfdbf"/><rect x="180" y="91" width="2" height="2" fill="#fcfdbf"/><rect x="182" y="91" width="2" height="2" fill="#fcf9bb"/><rect x="184" y="91" width="2" height="2" fill="#d0416f"/><rect x="186" y="91" width="2" height="2" fill="#ea5661"/><rect x="188" y="91" width="2" height="2" fill="#f9785d"/><rect x="190" y="91" width="2" height="2" fill="#d9466b"/><rect x="192" y="91" width="2" height="2" fill="#7c2382"/><rect x="194" y="91" width="2" height="2" fill="#6a1c81"/><rect x="196" y="91" width="2" height="2" fill="#8b2981"/><rect x="198" y="91" width="2" height="2" fill="#57157e"/><rect x="200" y="91" width="2" height="2" fill="#471078"/><rect x="202" y="91" width="2" height="2" fill="#762181"/><rect x="204" y="91" width="2" height="2" fill="#36106b"/><rect x="206" y="91" width="2" height="2" fill="#56147d"/><rect x="208" y="91" width="2" height="2" fill="#331067"/><rect x="210" y="91" width="2" height="2" fill="#341069"/><rect x="160" y="93" width="2" height="2" fill="#5d177f"/><rect x="162" y="93" width="2" height="2" fill="#882781"/><rect x="164" y="93" width="2" height="2" fill="#cf4070"/><rect x="166" y="93" width="2" height="2" fill="#9b2e7f"/><rect x="168" y="93" width="2" height="2" fill="#e85362"/><rect x="170" y="93" width="2" height="2" fill="#e85362"/><rect x="172" y="93" width="2" height="2" fill="#fea36f"/><rect x="174" y="93" width="2" height="2" fill="#fde5a7"/><rect x="176" y="93" width="2" height="2" fill="#fcf2b4"/><rect x="178" y="93" width="2" height="2" fill="#fcfdbf"/><rect x="180" y="93" width="2" height="2" fill="#fcfdbf"/><rect x="182" y="93" width="2" height="2" fill="#fcfdbf"/><rect x="184" y="93" width="2" height="2" fill="#fd9467"/><rect x="186" y="93" width="2" height="2" fill="#feb47b"/><rect x="188" y="93" width="2" height="2" fill="#feb47b"/><rect x="190" y="93" width="2" height="2" fill="#c73d73"/><rect x="192" y="93" width="2" height="2" fill="#802582"/><rect x="194" y="93" width="2" height="2" fill="#902a81"/><rect x="196" y="93" width="2" height="2" fill="#792282"/><rect x="198" y="93" width="2" height="2" fill="#59157e"/><rect x="200" y="93" width="2" height="2" fill="#4f127b"/><rect x="202" y="93" width="2" height="2" fill="#3f0f72"/><rect x="204" y="93" width="2" height="2" fill="#4c117a"/><rect x="206" y="93" width="2" height="2" fill="#2a115c"/><rect x="208" y="93" width="2" height="2" fill="#140e36"/><rect x="210" y="93" width="2" height="2" fill="#4f127b"/><rect x="160" y="95" width="2" height="2" fill="#8c2981"/><rect x="162" y="95" width="2" height="2" fill="#e44f64"/><rect x="164" y="95" width="2" height="2" fill="#b0357b"/><rect x="166" y="95" width="2" height="2" fill="#9e2f7f"/><rect x="168" y="95" width="2" height="2" fill="#c83e73"/><rect x="170" y="95" width="2" height="2" fill="#f9795d"/><rect x="172" y="95" width="2" height="2" fill="#fd9869"/><rect x="174" y="95" width="2" height="2" fill="#feb97f"/><rect x="176" y="95" width="2" height="2" fill="#fcfdbf"/><rect x="178" y="95" width="2" height="2" fill="#fcfdbf"/><rect x="180" y="95" width="2" height="2" fill="#fcfdbf"/><rect x="182" y="95" width="2" height="2" fill="#fcfdbf"/><rect x="184" y="95" width="2" height="2" fill="#fd9668"/><rect x="186" y="95" width="2" height="2" fill="#febd82"/><rect x="188" y="95" width="2" height="2" fill="#e75263"/><rect x="190" y="95" width="2" height="2" fill="#912b81"/><rect x="192" y="95" width="2" height="2" fill="#932b80"/><rect x="194" y="95" width="2" height="2" fill="#ab337c"/><rect x="196" y="95" width="2" height="2" fill="#902a81"/><rect x="198" y="95" width="2" height="2" fill="#832681"/><rect x="200" y="95" width="2" height="2" fill="#912b81"/><rect x="202" y="95" width="2" height="2" fill="#52137c"/><rect x="204" y="95" width="2" height="2" fill="#491078"/><rect x="206" y="95" width="2" height="2" fill="#271258"/><rect x="208" y="95" width="2" height="2" fill="#08071e"/><rect x="210" y="95" width="2" height="2" fill="#271258"/><rect x="160" y="97" width="2" height="2" fill="#c83e73"/><rect x="162" y="97" width="2" height="2" fill="#721f81"/><rect x="164" y="97" width="2" height="2" fill="#cd4071"/><rect x="166" y="97" width="2" height="2" fill="#bd3977"/><rect x="168" y="97" width="2" height="2" fill="#bd3977"/><rect x="170" y="97" width="2" height="2" fill="#f4675c"/><rect x="172" y="97" width="2" height="2" fill="#fddc9e"/><rect x="174" y="97" width="2" height="2" fill="#fec185"/><rect x="176" y="97" width="2" height="2" fill="#fcfdbf"/><rect x="178" y="97" width="2" height="2" fill="#fcfdbf"/><rect x="180" y="97" width="2" height="2" fill="#fdda9c"/><rect x="182" y="97" width="2" height="2" fill="#fdebac"/><rect x="184" y="97" width="2" height="2" fill="#feb67c"/><rect x="186" y="97" width="2" height="2" fill="#f2645c"/><rect x="188" y="97" width="2" height="2" fill="#e04c67"/><rect x="190" y="97" width="2" height="2" fill="#992d80"/><rect x="192" y="97" width="2" height="2" fill="#762181"/><rect x="194" y="97" width="2" height="2" fill="#51127c"/><rect x="196" y="97" width="2" height="2" fill="#752181"/><rect x="198" y="97" width="2" height="2" fill="#5d177f"/><rect x="200" y="97" width="2" height="2" fill="#3d0f71"/><rect x="202" y="97" width="2" height="2" fill="#1e1149"/><rect x="204" y="97" width="2" height="2" fill="#0c0926"/><rect x="206" y="97" width="2" height="2" fill="#1c1044"/><rect x="208" y="97" width="2" height="2" fill="#451077"/><rect x="210" y="97" width="2" height="2" fill="#130d34"/><rect x="160" y="99" width="2" height="2" fill="#ca3e72"/><rect x="162" y="99" width="2" height="2" fill="#a6317d"/><rect x="164" y="99" width="2" height="2" fill="#aa337d"/><rect x="166" y="99" width="2" height="2" fill="#942c80"/><rect x="168" y="99" width="2" height="2" fill="#f2625d"/><rect x="170" y="99" width="2" height="2" fill="#bf3a77"/><rect x="172" y="99" width="2" height="2" fill="#fd9467"/><rect x="174" y="99" width="2" height="2" fill="#fde2a3"/><rect x="176" y="99" width="2" height="2" fill="#febb81"/><rect x="178" y="99" width="2" height="2" fill="#fea16e"/><rect x="180" y="99" width="2" height="2" fill="#feb77e"/><rect x="182" y="99" width="2" height="2" fill="#fec88c"/><rect x="184" y="99" width="2" height="2" fill="#feb47b"/><rect x="186" y="99" width="2" height="2" fill="#ed5a5f"/><rect x="188" y="99" width="2" height="2" fill="#9c2e7f"/><rect x="190" y="99" width="2" height="2" fill="#842681"/><rect x="192" y="99" width="2" height="2" fill="#802582"/><rect x="194" y="99" width="2" height="2" fill="#440f76"/><rect x="196" y="99" width="2" height="2" fill="#671b80"/><rect x="198" y="99" width="2" height="2" fill="#a5317e"/><rect x="200" y="99" width="2" height="2" fill="#3d0f71"/><rect x="202" y="99" width="2" height="2" fill="#621980"/><rect x="204" y="99" width="2" height="2" fill="#221150"/><rect x="206" y="99" width="2" height="2" fill="#2a115c"/><rect x="208" y="99" width="2" height="2" fill="#341069"/><rect x="210" y="99" width="2" height="2" fill="#010106"/><rect x="160" y="101" width="2" height="2" fill="#8c2981"/><rect x="162" y="101" width="2" height="2" fill="#c23b75"/><rect x="164" y="101" width="2" height="2" fill="#c03a76"/><rect x="166" y="101" width="2" height="2" fill="#b73779"/><rect x="168" y="101" width="2" height="2" fill="#ad347c"/><rect x="170" y="101" width="2" height="2" fill="#bf3a77"/><rect x="172" y="101" width="2" height="2" fill="#f1605d"/><rect x="174" y="101" width="2" height="2" fill="#fd9869"/><rect x="176" y="101" width="2" height="2" fill="#feac76"/><rect x="178" y="101" width="2" height="2" fill="#f66c5c"/><rect x="180" y="101" width="2" height="2" fill="#feb27a"/><rect x="182" y="101" width="2" height="2" fill="#f3655c"/><rect x="184" y="101" width="2" height="2" fill="#dc4869"/><rect x="186" y="101" width="2" height="2" fill="#a3307e"/><rect x="188" y="101" width="2" height="2" fill="#a3307e"/><rect x="190" y="101" width="2" height="2" fill="#8b2981"/><rect x="192" y="101" width="2" height="2" fill="#59157e"/><rect x="194" y="101" width="2" height="2" fill="#5f187f"/><rect x="196" y="101" width="2" height="2" fill="#641a80"/><rect x="198" y="101" width="2" height="2" fill="#5c167f"/><rect x="200" y="101" width="2" height="2" fill="#6a1c81"/><rect x="202" y="101" width="2" height="2" fill="#2d1161"/><rect x="204" y="101" width="2" height="2" fill="#5c167f"/><rect x="206" y="101" width="2" height="2" fill="#341069"/><rect x="208" y="101" width="2" height="2" fill="#3b0f70"/><rect x="210" y="101" width="2" height="2" fill="#000004"/><rect x="160" y="103" width="2" height="2" fill="#8b2981"/><rect x="162" y="103" width="2" height="2" fill="#892881"/><rect x="164" y="103" width="2" height="2" fill="#b0357b"/><rect x="166" y="103" width="2" height="2" fill="#842681"/><rect x="168" y="103" width="2" height="2" fill="#d2426f"/><rect x="170" y="103" width="2" height="2" fill="#a3307e"/><rect x="172" y="103" width="2" height="2" fill="#f3655c"/><rect x="174" y="103" width="2" height="2" fill="#f05f5e"/><rect x="176" y="103" width="2" height="2" fill="#df4a68"/><rect x="178" y="103" width="2" height="2" fill="#fd9869"/><rect x="180" y="103" width="2" height="2" fill="#c73d73"/><rect x="182" y="103" width="2" height="2" fill="#c43c75"/><rect x="184" y="103" width="2" height="2" fill="#cd4071"/><rect x="186" y="103" width="2" height="2" fill="#c73d73"/><rect x="188" y="103" width="2" height="2" fill="#aa337d"/><rect x="190" y="103" width="2" height="2" fill="#a6317d"/><rect x="192" y="103" width="2" height="2" fill="#8c2981"/><rect x="194" y="103" width="2" height="2" fill="#732081"/><rect x="196" y="103" width="2" height="2" fill="#491078"/><rect x="198" y="103" width="2" height="2" fill="#491078"/><rect x="200" y="103" width="2" height="2" fill="#721f81"/><rect x="202" y="103" width="2" height="2" fill="#21114e"/><rect x="204" y="103" width="2" height="2" fill="#400f74"/><rect x="206" y="103" width="2" height="2" fill="#010106"/><rect x="208" y="103" width="2" height="2" fill="#1a1042"/><rect x="210" y="103" width="2" height="2" fill="#010106"/><rect x="160" y="105" width="2" height="2" fill="#aa337d"/><rect x="162" y="105" width="2" height="2" fill="#471078"/><rect x="164" y="105" width="2" height="2" fill="#7b2382"/><rect x="166" y="105" width="2" height="2" fill="#ad347c"/><rect x="168" y="105" width="2" height="2" fill="#bd3977"/><rect x="170" y="105" width="2" height="2" fill="#c53c74"/><rect x="172" y="105" width="2" height="2" fill="#e55064"/><rect x="174" y="105" width="2" height="2" fill="#d9466b"/><rect x="176" y="105" width="2" height="2" fill="#dc4869"/><rect x="178" y="105" width="2" height="2" fill="#d3436e"/><rect x="180" y="105" width="2" height="2" fill="#b0357b"/><rect x="182" y="105" width="2" height="2" fill="#782281"/><rect x="184" y="105" width="2" height="2" fill="#b5367a"/><rect x="186" y="105" width="2" height="2" fill="#d3436e"/><rect x="188" y="105" width="2" height="2" fill="#802582"/><rect x="190" y="105" width="2" height="2" fill="#641a80"/><rect x="192" y="105" width="2" height="2" fill="#7e2482"/><rect x="194" y="105" width="2" height="2" fill="#982d80"/><rect x="196" y="105" width="2" height="2" fill="#902a81"/><rect x="198" y="105" width="2" height="2" fill="#331067"/><rect x="200" y="105" width="2" height="2" fill="#5d177f"/><rect x="202" y="105" width="2" height="2" fill="#38106c"/><rect x="204" y="105" width="2" height="2" fill="#420f75"/><rect x="206" y="105" width="2" height="2" fill="#000004"/><rect x="208" y="105" width="2" height="2" fill="#57157e"/><rect x="210" y="105" width="2" height="2" fill="#2d1161"/><rect x="160" y="107" width="2" height="2" fill="#8b2981"/><rect x="162" y="107" width="2" height="2" fill="#762181"/><rect x="164" y="107" width="2" height="2" fill="#681c81"/><rect x="166" y="107" width="2" height="2" fill="#982d80"/><rect x="168" y="107" width="2" height="2" fill="#7c2382"/><rect x="170" y="107" width="2" height="2" fill="#7c2382"/><rect x="172" y="107" width="2" height="2" fill="#ba3878"/><rect x="174" y="107" width="2" height="2" fill="#a5317e"/><rect x="176" y="107" width="2" height="2" fill="#992d80"/><rect x="178" y="107" width="2" height="2" fill="#c73d73"/><rect x="180" y="107" width="2" height="2" fill="#912b81"/><rect x="182" y="107" width="2" height="2" fill="#942c80"/><rect x="184" y="107" width="2" height="2" fill="#b2357b"/><rect x="186" y="107" width="2" height="2" fill="#c53c74"/><rect x="188" y="107" width="2" height="2" fill="#b83779"/><rect x="190" y="107" width="2" height="2" fill="#ba3878"/><rect x="192" y="107" width="2" height="2" fill="#752181"/><rect x="194" y="107" width="2" height="2" fill="#5c167f"/><rect x="196" y="107" width="2" height="2" fill="#a8327d"/><rect x="198" y="107" width="2" height="2" fill="#8b2981"/><rect x="200" y="107" width="2" height="2" fill="#52137c"/><rect x="202" y="107" width="2" height="2" fill="#6d1d81"/><rect x="204" y="107" width="2" height="2" fill="#390f6e"/><rect x="206" y="107" width="2" height="2" fill="#100b2d"/><rect x="208" y="107" width="2" height="2" fill="#681c81"/><rect x="210" y="107" width="2" height="2" fill="#51127c"/><rect x="160" y="109" width="2" height="2" fill="#912b81"/><rect x="162" y="109" width="2" height="2" fill="#c53c74"/><rect x="164" y="109" width="2" height="2" fill="#b73779"/><rect x="166" y="109" width="2" height="2" fill="#671b80"/><rect x="168" y="109" width="2" height="2" fill="#54137d"/><rect x="170" y="109" width="2" height="2" fill="#471078"/><rect x="172" y="109" width="2" height="2" fill="#8c2981"/><rect x="174" y="109" width="2" height="2" fill="#892881"/><rect x="176" y="109" width="2" height="2" fill="#a6317d"/><rect x="178" y="109" width="2" height="2" fill="#9c2e7f"/><rect x="180" y="109" width="2" height="2" fill="#7c2382"/><rect x="182" y="109" width="2" height="2" fill="#7c2382"/><rect x="184" y="109" width="2" height="2" fill="#601880"/><rect x="186" y="109" width="2" height="2" fill="#a6317d"/><rect x="188" y="109" width="2" height="2" fill="#792282"/><rect x="190" y="109" width="2" height="2" fill="#882781"/><rect x="192" y="109" width="2" height="2" fill="#4f127b"/><rect x="194" y="109" width="2" height="2" fill="#641a80"/><rect x="196" y="109" width="2" height="2" fill="#752181"/><rect x="198" y="109" width="2" height="2" fill="#52137c"/><rect x="200" y="109" width="2" height="2" fill="#331067"/><rect x="202" y="109" width="2" height="2" fill="#9b2e7f"/><rect x="204" y="109" width="2" height="2" fill="#4f127b"/><rect x="206" y="109" width="2" height="2" fill="#56147d"/><rect x="208" y="109" width="2" height="2" fill="#451077"/><rect x="210" y="109" width="2" height="2" fill="#221150"/><rect x="160" y="111" width="2" height="2" fill="#b0357b"/><rect x="162" y="111" width="2" height="2" fill="#a1307e"/><rect x="164" y="111" width="2" height="2" fill="#882781"/><rect x="166" y="111" width="2" height="2" fill="#2d1161"/><rect x="168" y="111" width="2" height="2" fill="#882781"/><rect x="170" y="111" width="2" height="2" fill="#942c80"/><rect x="172" y="111" width="2" height="2" fill="#892881"/><rect x="174" y="111" width="2" height="2" fill="#842681"/><rect x="176" y="111" width="2" height="2" fill="#b5367a"/><rect x="178" y="111" width="2" height="2" fill="#962c80"/><rect x="180" y="111" width="2" height="2" fill="#a02f7f"/><rect x="182" y="111" width="2" height="2" fill="#ad347c"/><rect x="184" y="111" width="2" height="2" fill="#942c80"/><rect x="186" y="111" width="2" height="2" fill="#56147d"/><rect x="188" y="111" width="2" height="2" fill="#6e1e81"/><rect x="190" y="111" width="2" height="2" fill="#51127c"/><rect x="192" y="111" width="2" height="2" fill="#1e1149"/><rect x="194" y="111" width="2" height="2" fill="#671b80"/><rect x="196" y="111" width="2" height="2" fill="#251255"/><rect x="198" y="111" width="2" height="2" fill="#311165"/><rect x="200" y="111" width="2" height="2" fill="#02020b"/><rect x="202" y="111" width="2" height="2" fill="#29115a"/><rect x="204" y="111" width="2" height="2" fill="#341069"/><rect x="206" y="111" width="2" height="2" fill="#440f76"/><rect x="208" y="111" width="2" height="2" fill="#36106b"/><rect x="210" y="111" width="2" height="2" fill="#241253"/><rect x="160" y="113" width="2" height="2" fill="#621980"/><rect x="162" y="113" width="2" height="2" fill="#ad347c"/><rect x="164" y="113" width="2" height="2" fill="#701f81"/><rect x="166" y="113" width="2" height="2" fill="#7b2382"/><rect x="168" y="113" width="2" height="2" fill="#c03a76"/><rect x="170" y="113" width="2" height="2" fill="#420f75"/><rect x="172" y="113" width="2" height="2" fill="#271258"/><rect x="174" y="113" width="2" height="2" fill="#4f127b"/><rect x="176" y="113" width="2" height="2" fill="#701f81"/><rect x="178" y="113" width="2" height="2" fill="#5d177f"/><rect x="180" y="113" width="2" height="2" fill="#812581"/><rect x="182" y="113" width="2" height="2" fill="#762181"/><rect x="184" y="113" width="2" height="2" fill="#420f75"/><rect x="186" y="113" width="2" height="2" fill="#681c81"/><rect x="188" y="113" width="2" height="2" fill="#440f76"/><rect x="190" y="113" width="2" height="2" fill="#782281"/><rect x="192" y="113" width="2" height="2" fill="#732081"/><rect x="194" y="113" width="2" height="2" fill="#b73779"/><rect x="196" y="113" width="2" height="2" fill="#802582"/><rect x="198" y="113" width="2" height="2" fill="#54137d"/><rect x="200" y="113" width="2" height="2" fill="#59157e"/><rect x="202" y="113" width="2" height="2" fill="#51127c"/><rect x="204" y="113" width="2" height="2" fill="#271258"/><rect x="206" y="113" width="2" height="2" fill="#1d1147"/><rect x="208" y="113" width="2" height="2" fill="#732081"/><rect x="210" y="113" width="2" height="2" fill="#8e2a81"/><rect x="160" y="115" width="2" height="2" fill="#5c167f"/><rect x="162" y="115" width="2" height="2" fill="#6e1e81"/><rect x="164" y="115" width="2" height="2" fill="#6b1d81"/><rect x="166" y="115" width="2" height="2" fill="#9b2e7f"/><rect x="168" y="115" width="2" height="2" fill="#ae347b"/><rect x="170" y="115" width="2" height="2" fill="#57157e"/><rect x="172" y="115" width="2" height="2" fill="#5c167f"/><rect x="174" y="115" width="2" height="2" fill="#5f187f"/><rect x="176" y="115" width="2" height="2" fill="#762181"/><rect x="178" y="115" width="2" height="2" fill="#962c80"/><rect x="180" y="115" width="2" height="2" fill="#a1307e"/><rect x="182" y="115" width="2" height="2" fill="#721f81"/><rect x="184" y="115" width="2" height="2" fill="#52137c"/><rect x="186" y="115" width="2" height="2" fill="#832681"/><rect x="188" y="115" width="2" height="2" fill="#802582"/><rect x="190" y="115" width="2" height="2" fill="#57157e"/><rect x="192" y="115" width="2" height="2" fill="#701f81"/><rect x="194" y="115" width="2" height="2" fill="#842681"/><rect x="196" y="115" width="2" height="2" fill="#892881"/><rect x="198" y="115" width="2" height="2" fill="#651a80"/><rect x="200" y="115" width="2" height="2" fill="#6a1c81"/><rect x="202" y="115" width="2" height="2" fill="#59157e"/><rect x="204" y="115" width="2" height="2" fill="#2f1163"/><rect x="206" y="115" width="2" height="2" fill="#621980"/><rect x="208" y="115" width="2" height="2" fill="#641a80"/><rect x="210" y="115" width="2" height="2" fill="#812581"/><rect x="160" y="117" width="2" height="2" fill="#3d0f71"/><rect x="162" y="117" width="2" height="2" fill="#59157e"/><rect x="164" y="117" width="2" height="2" fill="#782281"/><rect x="166" y="117" width="2" height="2" fill="#3b0f70"/><rect x="168" y="117" width="2" height="2" fill="#6e1e81"/><rect x="170" y="117" width="2" height="2" fill="#621980"/><rect x="172" y="117" width="2" height="2" fill="#621980"/><rect x="174" y="117" width="2" height="2" fill="#5d177f"/><rect x="176" y="117" width="2" height="2" fill="#1d1147"/><rect x="178" y="117" width="2" height="2" fill="#721f81"/><rect x="180" y="117" width="2" height="2" fill="#842681"/><rect x="182" y="117" width="2" height="2" fill="#a5317e"/><rect x="184" y="117" width="2" height="2" fill="#ae347b"/><rect x="186" y="117" width="2" height="2" fill="#8b2981"/><rect x="188" y="117" width="2" height="2" fill="#882781"/><rect x="190" y="117" width="2" height="2" fill="#100b2d"/><rect x="192" y="117" width="2" height="2" fill="#752181"/><rect x="194" y="117" width="2" height="2" fill="#992d80"/><rect x="196" y="117" width="2" height="2" fill="#8e2a81"/><rect x="198" y="117" width="2" height="2" fill="#6a1c81"/><rect x="200" y="117" width="2" height="2" fill="#4e117b"/><rect x="202" y="117" width="2" height="2" fill="#471078"/><rect x="204" y="117" width="2" height="2" fill="#52137c"/><rect x="206" y="117" width="2" height="2" fill="#6b1d81"/><rect x="208" y="117" width="2" height="2" fill="#6d1d81"/><rect x="210" y="117" width="2" height="2" fill="#56147d"/></g></g><g fill="none" stroke="#000" stroke-width="1" shape-rendering="crispEdges"><path d="M159.5,66.5 H212.5 V129.5 H159.5"/><line x1="159.5" y1="66" x2="159.5" y2="130" stroke="#666"/><line x1="159.5" y1="118.5" x2="212.5" y2="118.5"/></g><rect x="160" y="119" width="52" height="10" fill="#fff"/><text x="186" y="127.1" text-anchor="middle" font-size="8.8" fill="#000">130–240 eV</text><rect x="231" y="66" width="54" height="64" fill="#fff"/><g clip-path="url(#hc7)"><g shape-rendering="crispEdges" filter="url(#hb)"><rect x="232" y="67" width="2" height="2" fill="#fb9f3a"/><rect x="234" y="67" width="2" height="2" fill="#cb4679"/><rect x="236" y="67" width="2" height="2" fill="#e26561"/><rect x="238" y="67" width="2" height="2" fill="#e56b5d"/><rect x="240" y="67" width="2" height="2" fill="#ba3388"/><rect x="242" y="67" width="2" height="2" fill="#dd5e66"/><rect x="244" y="67" width="2" height="2" fill="#d14e72"/><rect x="246" y="67" width="2" height="2" fill="#7e03a8"/><rect x="248" y="67" width="2" height="2" fill="#e97158"/><rect x="250" y="67" width="2" height="2" fill="#e4695e"/><rect x="252" y="67" width="2" height="2" fill="#b6308b"/><rect x="254" y="67" width="2" height="2" fill="#d35171"/><rect x="256" y="67" width="2" height="2" fill="#e26660"/><rect x="258" y="67" width="2" height="2" fill="#ca457a"/><rect x="260" y="67" width="2" height="2" fill="#c7427c"/><rect x="262" y="67" width="2" height="2" fill="#8606a6"/><rect x="264" y="67" width="2" height="2" fill="#e26561"/><rect x="266" y="67" width="2" height="2" fill="#da5b69"/><rect x="268" y="67" width="2" height="2" fill="#d9586a"/><rect x="270" y="67" width="2" height="2" fill="#8707a6"/><rect x="272" y="67" width="2" height="2" fill="#f79044"/><rect x="274" y="67" width="2" height="2" fill="#e56b5d"/><rect x="276" y="67" width="2" height="2" fill="#d5546e"/><rect x="278" y="67" width="2" height="2" fill="#fca338"/><rect x="280" y="67" width="2" height="2" fill="#e16462"/><rect x="282" y="67" width="2" height="2" fill="#8d0ba5"/><rect x="232" y="69" width="2" height="2" fill="#ce4b75"/><rect x="234" y="69" width="2" height="2" fill="#6a00a8"/><rect x="236" y="69" width="2" height="2" fill="#ee7b51"/><rect x="238" y="69" width="2" height="2" fill="#d04d73"/><rect x="240" y="69" width="2" height="2" fill="#ba3388"/><rect x="242" y="69" width="2" height="2" fill="#ed7a52"/><rect x="244" y="69" width="2" height="2" fill="#920fa3"/><rect x="246" y="69" width="2" height="2" fill="#de5f65"/><rect x="248" y="69" width="2" height="2" fill="#6900a8"/><rect x="250" y="69" width="2" height="2" fill="#a62098"/><rect x="252" y="69" width="2" height="2" fill="#9a169f"/><rect x="254" y="69" width="2" height="2" fill="#f1834c"/><rect x="256" y="69" width="2" height="2" fill="#f48948"/><rect x="258" y="69" width="2" height="2" fill="#ca457a"/><rect x="260" y="69" width="2" height="2" fill="#e16462"/><rect x="262" y="69" width="2" height="2" fill="#c9447a"/><rect x="264" y="69" width="2" height="2" fill="#df6263"/><rect x="266" y="69" width="2" height="2" fill="#ac2694"/><rect x="268" y="69" width="2" height="2" fill="#7a02a8"/><rect x="270" y="69" width="2" height="2" fill="#6a00a8"/><rect x="272" y="69" width="2" height="2" fill="#e56b5d"/><rect x="274" y="69" width="2" height="2" fill="#fdac33"/><rect x="276" y="69" width="2" height="2" fill="#e66c5c"/><rect x="278" y="69" width="2" height="2" fill="#d6556d"/><rect x="280" y="69" width="2" height="2" fill="#fa9c3c"/><rect x="282" y="69" width="2" height="2" fill="#e56a5d"/><rect x="232" y="71" width="2" height="2" fill="#e26660"/><rect x="234" y="71" width="2" height="2" fill="#de5f65"/><rect x="236" y="71" width="2" height="2" fill="#e06363"/><rect x="238" y="71" width="2" height="2" fill="#d14e72"/><rect x="240" y="71" width="2" height="2" fill="#9c179e"/><rect x="242" y="71" width="2" height="2" fill="#e56a5d"/><rect x="244" y="71" width="2" height="2" fill="#d8576b"/><rect x="246" y="71" width="2" height="2" fill="#ee7b51"/><rect x="248" y="71" width="2" height="2" fill="#bd3786"/><rect x="250" y="71" width="2" height="2" fill="#6e00a8"/><rect x="252" y="71" width="2" height="2" fill="#d14e72"/><rect x="254" y="71" width="2" height="2" fill="#f48849"/><rect x="256" y="71" width="2" height="2" fill="#cd4a76"/><rect x="258" y="71" width="2" height="2" fill="#a21d9a"/><rect x="260" y="71" width="2" height="2" fill="#8f0da4"/><rect x="262" y="71" width="2" height="2" fill="#9613a1"/><rect x="264" y="71" width="2" height="2" fill="#be3885"/><rect x="266" y="71" width="2" height="2" fill="#9e199d"/><rect x="268" y="71" width="2" height="2" fill="#f07f4f"/><rect x="270" y="71" width="2" height="2" fill="#cf4c74"/><rect x="272" y="71" width="2" height="2" fill="#de5f65"/><rect x="274" y="71" width="2" height="2" fill="#f79044"/><rect x="276" y="71" width="2" height="2" fill="#f58c46"/><rect x="278" y="71" width="2" height="2" fill="#da5b69"/><rect x="280" y="71" width="2" height="2" fill="#e76f5a"/><rect x="282" y="71" width="2" height="2" fill="#eb7556"/><rect x="232" y="73" width="2" height="2" fill="#d7566c"/><rect x="234" y="73" width="2" height="2" fill="#8e0ca4"/><rect x="236" y="73" width="2" height="2" fill="#ed7a52"/><rect x="238" y="73" width="2" height="2" fill="#f1834c"/><rect x="240" y="73" width="2" height="2" fill="#e76f5a"/><rect x="242" y="73" width="2" height="2" fill="#b7318a"/><rect x="244" y="73" width="2" height="2" fill="#ce4b75"/><rect x="246" y="73" width="2" height="2" fill="#c5407e"/><rect x="248" y="73" width="2" height="2" fill="#d04d73"/><rect x="250" y="73" width="2" height="2" fill="#ed7953"/><rect x="252" y="73" width="2" height="2" fill="#f07f4f"/><rect x="254" y="73" width="2" height="2" fill="#e56b5d"/><rect x="256" y="73" width="2" height="2" fill="#de5f65"/><rect x="258" y="73" width="2" height="2" fill="#dc5d67"/><rect x="260" y="73" width="2" height="2" fill="#cb4679"/><rect x="262" y="73" width="2" height="2" fill="#cc4977"/><rect x="264" y="73" width="2" height="2" fill="#b02991"/><rect x="266" y="73" width="2" height="2" fill="#d04d73"/><rect x="268" y="73" width="2" height="2" fill="#fba238"/><rect x="270" y="73" width="2" height="2" fill="#ea7457"/><rect x="272" y="73" width="2" height="2" fill="#cc4977"/><rect x="274" y="73" width="2" height="2" fill="#cb4679"/><rect x="276" y="73" width="2" height="2" fill="#be3885"/><rect x="278" y="73" width="2" height="2" fill="#e3685f"/><rect x="280" y="73" width="2" height="2" fill="#e56a5d"/><rect x="282" y="73" width="2" height="2" fill="#9a169f"/><rect x="232" y="75" width="2" height="2" fill="#ea7457"/><rect x="234" y="75" width="2" height="2" fill="#cc4977"/><rect x="236" y="75" width="2" height="2" fill="#f89441"/><rect x="238" y="75" width="2" height="2" fill="#eb7556"/><rect x="240" y="75" width="2" height="2" fill="#f9973f"/><rect x="242" y="75" width="2" height="2" fill="#c8437b"/><rect x="244" y="75" width="2" height="2" fill="#cf4c74"/><rect x="246" y="75" width="2" height="2" fill="#de5f65"/><rect x="248" y="75" width="2" height="2" fill="#e97257"/><rect x="250" y="75" width="2" height="2" fill="#e26660"/><rect x="252" y="75" width="2" height="2" fill="#9d189d"/><rect x="254" y="75" width="2" height="2" fill="#d5536f"/><rect x="256" y="75" width="2" height="2" fill="#cf4c74"/><rect x="258" y="75" width="2" height="2" fill="#b6308b"/><rect x="260" y="75" width="2" height="2" fill="#b12a90"/><rect x="262" y="75" width="2" height="2" fill="#ee7b51"/><rect x="264" y="75" width="2" height="2" fill="#c03a83"/><rect x="266" y="75" width="2" height="2" fill="#a82296"/><rect x="268" y="75" width="2" height="2" fill="#e3685f"/><rect x="270" y="75" width="2" height="2" fill="#d9586a"/><rect x="272" y="75" width="2" height="2" fill="#d5546e"/><rect x="274" y="75" width="2" height="2" fill="#e56a5d"/><rect x="276" y="75" width="2" height="2" fill="#e3685f"/><rect x="278" y="75" width="2" height="2" fill="#e66c5c"/><rect x="280" y="75" width="2" height="2" fill="#f0804e"/><rect x="282" y="75" width="2" height="2" fill="#e56a5d"/><rect x="232" y="77" width="2" height="2" fill="#c6417d"/><rect x="234" y="77" width="2" height="2" fill="#d5536f"/><rect x="236" y="77" width="2" height="2" fill="#da5a6a"/><rect x="238" y="77" width="2" height="2" fill="#e76e5b"/><rect x="240" y="77" width="2" height="2" fill="#b22b8f"/><rect x="242" y="77" width="2" height="2" fill="#8104a7"/><rect x="244" y="77" width="2" height="2" fill="#db5c68"/><rect x="246" y="77" width="2" height="2" fill="#8d0ba5"/><rect x="248" y="77" width="2" height="2" fill="#7201a8"/><rect x="250" y="77" width="2" height="2" fill="#db5c68"/><rect x="252" y="77" width="2" height="2" fill="#ae2892"/><rect x="254" y="77" width="2" height="2" fill="#da5a6a"/><rect x="256" y="77" width="2" height="2" fill="#b02991"/><rect x="258" y="77" width="2" height="2" fill="#8405a7"/><rect x="260" y="77" width="2" height="2" fill="#7d03a8"/><rect x="262" y="77" width="2" height="2" fill="#ba3388"/><rect x="264" y="77" width="2" height="2" fill="#bf3984"/><rect x="266" y="77" width="2" height="2" fill="#aa2395"/><rect x="268" y="77" width="2" height="2" fill="#be3885"/><rect x="270" y="77" width="2" height="2" fill="#8405a7"/><rect x="272" y="77" width="2" height="2" fill="#ce4b75"/><rect x="274" y="77" width="2" height="2" fill="#8004a8"/><rect x="276" y="77" width="2" height="2" fill="#cb4679"/><rect x="278" y="77" width="2" height="2" fill="#ea7457"/><rect x="280" y="77" width="2" height="2" fill="#f3854b"/><rect x="282" y="77" width="2" height="2" fill="#fa9e3b"/><rect x="232" y="79" width="2" height="2" fill="#9c179e"/><rect x="234" y="79" width="2" height="2" fill="#f3854b"/><rect x="236" y="79" width="2" height="2" fill="#f9973f"/><rect x="238" y="79" width="2" height="2" fill="#f3854b"/><rect x="240" y="79" width="2" height="2" fill="#ba3388"/><rect x="242" y="79" width="2" height="2" fill="#e97158"/><rect x="244" y="79" width="2" height="2" fill="#f99a3e"/><rect x="246" y="79" width="2" height="2" fill="#9e199d"/><rect x="248" y="79" width="2" height="2" fill="#df6263"/><rect x="250" y="79" width="2" height="2" fill="#ea7457"/><rect x="252" y="79" width="2" height="2" fill="#bd3786"/><rect x="254" y="79" width="2" height="2" fill="#da5a6a"/><rect x="256" y="79" width="2" height="2" fill="#8b0aa5"/><rect x="258" y="79" width="2" height="2" fill="#a11b9b"/><rect x="260" y="79" width="2" height="2" fill="#9511a1"/><rect x="262" y="79" width="2" height="2" fill="#d24f71"/><rect x="264" y="79" width="2" height="2" fill="#d24f71"/><rect x="266" y="79" width="2" height="2" fill="#e26660"/><rect x="268" y="79" width="2" height="2" fill="#a11b9b"/><rect x="270" y="79" width="2" height="2" fill="#cc4778"/><rect x="272" y="79" width="2" height="2" fill="#e66c5c"/><rect x="274" y="79" width="2" height="2" fill="#db5c68"/><rect x="276" y="79" width="2" height="2" fill="#9a169f"/><rect x="278" y="79" width="2" height="2" fill="#e56b5d"/><rect x="280" y="79" width="2" height="2" fill="#d14e72"/><rect x="282" y="79" width="2" height="2" fill="#e76f5a"/><rect x="232" y="81" width="2" height="2" fill="#eb7655"/><rect x="234" y="81" width="2" height="2" fill="#f99a3e"/><rect x="236" y="81" width="2" height="2" fill="#e97158"/><rect x="238" y="81" width="2" height="2" fill="#8e0ca4"/><rect x="240" y="81" width="2" height="2" fill="#a51f99"/><rect x="242" y="81" width="2" height="2" fill="#ee7b51"/><rect x="244" y="81" width="2" height="2" fill="#e26660"/><rect x="246" y="81" width="2" height="2" fill="#ef7e50"/><rect x="248" y="81" width="2" height="2" fill="#e16462"/><rect x="250" y="81" width="2" height="2" fill="#c13b82"/><rect x="252" y="81" width="2" height="2" fill="#e76e5b"/><rect x="254" y="81" width="2" height="2" fill="#ad2793"/><rect x="256" y="81" width="2" height="2" fill="#5e01a6"/><rect x="258" y="81" width="2" height="2" fill="#f1834c"/><rect x="260" y="81" width="2" height="2" fill="#6e00a8"/><rect x="262" y="81" width="2" height="2" fill="#db5c68"/><rect x="264" y="81" width="2" height="2" fill="#e4695e"/><rect x="266" y="81" width="2" height="2" fill="#d5536f"/><rect x="268" y="81" width="2" height="2" fill="#7d03a8"/><rect x="270" y="81" width="2" height="2" fill="#e26561"/><rect x="272" y="81" width="2" height="2" fill="#8e0ca4"/><rect x="274" y="81" width="2" height="2" fill="#8f0da4"/><rect x="276" y="81" width="2" height="2" fill="#c13b82"/><rect x="278" y="81" width="2" height="2" fill="#e76f5a"/><rect x="280" y="81" width="2" height="2" fill="#e3685f"/><rect x="282" y="81" width="2" height="2" fill="#ec7754"/><rect x="232" y="83" width="2" height="2" fill="#db5c68"/><rect x="234" y="83" width="2" height="2" fill="#e76e5b"/><rect x="236" y="83" width="2" height="2" fill="#c13b82"/><rect x="238" y="83" width="2" height="2" fill="#d5546e"/><rect x="240" y="83" width="2" height="2" fill="#ee7b51"/><rect x="242" y="83" width="2" height="2" fill="#e16462"/><rect x="244" y="83" width="2" height="2" fill="#e97257"/><rect x="246" y="83" width="2" height="2" fill="#c7427c"/><rect x="248" y="83" width="2" height="2" fill="#c9447a"/><rect x="250" y="83" width="2" height="2" fill="#d7566c"/><rect x="252" y="83" width="2" height="2" fill="#d6556d"/><rect x="254" y="83" width="2" height="2" fill="#de5f65"/><rect x="256" y="83" width="2" height="2" fill="#da5a6a"/><rect x="258" y="83" width="2" height="2" fill="#f3874a"/><rect x="260" y="83" width="2" height="2" fill="#c7427c"/><rect x="262" y="83" width="2" height="2" fill="#c03a83"/><rect x="264" y="83" width="2" height="2" fill="#a11b9b"/><rect x="266" y="83" width="2" height="2" fill="#d14e72"/><rect x="268" y="83" width="2" height="2" fill="#dc5d67"/><rect x="270" y="83" width="2" height="2" fill="#b83289"/><rect x="272" y="83" width="2" height="2" fill="#cc4977"/><rect x="274" y="83" width="2" height="2" fill="#e26561"/><rect x="276" y="83" width="2" height="2" fill="#ce4b75"/><rect x="278" y="83" width="2" height="2" fill="#c33d80"/><rect x="280" y="83" width="2" height="2" fill="#eb7556"/><rect x="282" y="83" width="2" height="2" fill="#e16462"/><rect x="232" y="85" width="2" height="2" fill="#f48849"/><rect x="234" y="85" width="2" height="2" fill="#fba238"/><rect x="236" y="85" width="2" height="2" fill="#f89540"/><rect x="238" y="85" width="2" height="2" fill="#e26561"/><rect x="240" y="85" width="2" height="2" fill="#de5f65"/><rect x="242" y="85" width="2" height="2" fill="#eb7655"/><rect x="244" y="85" width="2" height="2" fill="#db5c68"/><rect x="246" y="85" width="2" height="2" fill="#8a09a5"/><rect x="248" y="85" width="2" height="2" fill="#f1814d"/><rect x="250" y="85" width="2" height="2" fill="#e16462"/><rect x="252" y="85" width="2" height="2" fill="#e66c5c"/><rect x="254" y="85" width="2" height="2" fill="#b22b8f"/><rect x="256" y="85" width="2" height="2" fill="#ec7754"/><rect x="258" y="85" width="2" height="2" fill="#c33d80"/><rect x="260" y="85" width="2" height="2" fill="#ca457a"/><rect x="262" y="85" width="2" height="2" fill="#8d0ba5"/><rect x="264" y="85" width="2" height="2" fill="#c03a83"/><rect x="266" y="85" width="2" height="2" fill="#c5407e"/><rect x="268" y="85" width="2" height="2" fill="#c6417d"/><rect x="270" y="85" width="2" height="2" fill="#db5c68"/><rect x="272" y="85" width="2" height="2" fill="#d5546e"/><rect x="274" y="85" width="2" height="2" fill="#e4695e"/><rect x="276" y="85" width="2" height="2" fill="#b7318a"/><rect x="278" y="85" width="2" height="2" fill="#a21d9a"/><rect x="280" y="85" width="2" height="2" fill="#da5a6a"/><rect x="282" y="85" width="2" height="2" fill="#e76e5b"/><rect x="232" y="87" width="2" height="2" fill="#fca934"/><rect x="234" y="87" width="2" height="2" fill="#f79342"/><rect x="236" y="87" width="2" height="2" fill="#a82296"/><rect x="238" y="87" width="2" height="2" fill="#f3854b"/><rect x="240" y="87" width="2" height="2" fill="#fca934"/><rect x="242" y="87" width="2" height="2" fill="#ed7953"/><rect x="244" y="87" width="2" height="2" fill="#d9586a"/><rect x="246" y="87" width="2" height="2" fill="#e56a5d"/><rect x="248" y="87" width="2" height="2" fill="#d45270"/><rect x="250" y="87" width="2" height="2" fill="#eb7655"/><rect x="252" y="87" width="2" height="2" fill="#e3685f"/><rect x="254" y="87" width="2" height="2" fill="#f1834c"/><rect x="256" y="87" width="2" height="2" fill="#e76e5b"/><rect x="258" y="87" width="2" height="2" fill="#b7318a"/><rect x="260" y="87" width="2" height="2" fill="#e26561"/><rect x="262" y="87" width="2" height="2" fill="#e56a5d"/><rect x="264" y="87" width="2" height="2" fill="#b52f8c"/><rect x="266" y="87" width="2" height="2" fill="#b52f8c"/><rect x="268" y="87" width="2" height="2" fill="#5502a4"/><rect x="270" y="87" width="2" height="2" fill="#e16462"/><rect x="272" y="87" width="2" height="2" fill="#b42e8d"/><rect x="274" y="87" width="2" height="2" fill="#5801a4"/><rect x="276" y="87" width="2" height="2" fill="#5b01a5"/><rect x="278" y="87" width="2" height="2" fill="#be3885"/><rect x="280" y="87" width="2" height="2" fill="#e4695e"/><rect x="282" y="87" width="2" height="2" fill="#d5546e"/><rect x="232" y="89" width="2" height="2" fill="#f68f44"/><rect x="234" y="89" width="2" height="2" fill="#c7427c"/><rect x="236" y="89" width="2" height="2" fill="#b02991"/><rect x="238" y="89" width="2" height="2" fill="#f89540"/><rect x="240" y="89" width="2" height="2" fill="#f9983e"/><rect x="242" y="89" width="2" height="2" fill="#ed7953"/><rect x="244" y="89" width="2" height="2" fill="#f89540"/><rect x="246" y="89" width="2" height="2" fill="#c7427c"/><rect x="248" y="89" width="2" height="2" fill="#d5546e"/><rect x="250" y="89" width="2" height="2" fill="#f48948"/><rect x="252" y="89" width="2" height="2" fill="#fa9b3d"/><rect x="254" y="89" width="2" height="2" fill="#e26561"/><rect x="256" y="89" width="2" height="2" fill="#f68f44"/><rect x="258" y="89" width="2" height="2" fill="#c43e7f"/><rect x="260" y="89" width="2" height="2" fill="#db5c68"/><rect x="262" y="89" width="2" height="2" fill="#d24f71"/><rect x="264" y="89" width="2" height="2" fill="#8606a6"/><rect x="266" y="89" width="2" height="2" fill="#d7566c"/><rect x="268" y="89" width="2" height="2" fill="#e26660"/><rect x="270" y="89" width="2" height="2" fill="#d24f71"/><rect x="272" y="89" width="2" height="2" fill="#ce4b75"/><rect x="274" y="89" width="2" height="2" fill="#e56b5d"/><rect x="276" y="89" width="2" height="2" fill="#8a09a5"/><rect x="278" y="89" width="2" height="2" fill="#7201a8"/><rect x="280" y="89" width="2" height="2" fill="#b22b8f"/><rect x="282" y="89" width="2" height="2" fill="#8e0ca4"/><rect x="232" y="91" width="2" height="2" fill="#fdaf31"/><rect x="234" y="91" width="2" height="2" fill="#f3854b"/><rect x="236" y="91" width="2" height="2" fill="#d24f71"/><rect x="238" y="91" width="2" height="2" fill="#e16462"/><rect x="240" y="91" width="2" height="2" fill="#f9dd25"/><rect x="242" y="91" width="2" height="2" fill="#dc5d67"/><rect x="244" y="91" width="2" height="2" fill="#ce4b75"/><rect x="246" y="91" width="2" height="2" fill="#eb7556"/><rect x="248" y="91" width="2" height="2" fill="#f0804e"/><rect x="250" y="91" width="2" height="2" fill="#e97257"/><rect x="252" y="91" width="2" height="2" fill="#c5407e"/><rect x="254" y="91" width="2" height="2" fill="#a82296"/><rect x="256" y="91" width="2" height="2" fill="#eb7655"/><rect x="258" y="91" width="2" height="2" fill="#da5b69"/><rect x="260" y="91" width="2" height="2" fill="#8b0aa5"/><rect x="262" y="91" width="2" height="2" fill="#e97158"/><rect x="264" y="91" width="2" height="2" fill="#e56a5d"/><rect x="266" y="91" width="2" height="2" fill="#cd4a76"/><rect x="268" y="91" width="2" height="2" fill="#c43e7f"/><rect x="270" y="91" width="2" height="2" fill="#d5546e"/><rect x="272" y="91" width="2" height="2" fill="#ac2694"/><rect x="274" y="91" width="2" height="2" fill="#8d0ba5"/><rect x="276" y="91" width="2" height="2" fill="#d35171"/><rect x="278" y="91" width="2" height="2" fill="#8a09a5"/><rect x="280" y="91" width="2" height="2" fill="#d6556d"/><rect x="282" y="91" width="2" height="2" fill="#8405a7"/><rect x="232" y="93" width="2" height="2" fill="#ed7953"/><rect x="234" y="93" width="2" height="2" fill="#ef7c51"/><rect x="236" y="93" width="2" height="2" fill="#feb82c"/><rect x="238" y="93" width="2" height="2" fill="#cc4778"/><rect x="240" y="93" width="2" height="2" fill="#bb3488"/><rect x="242" y="93" width="2" height="2" fill="#c6417d"/><rect x="244" y="93" width="2" height="2" fill="#ba3388"/><rect x="246" y="93" width="2" height="2" fill="#cd4a76"/><rect x="248" y="93" width="2" height="2" fill="#ef7c51"/><rect x="250" y="93" width="2" height="2" fill="#f58c46"/><rect x="252" y="93" width="2" height="2" fill="#f9973f"/><rect x="254" y="93" width="2" height="2" fill="#c8437b"/><rect x="256" y="93" width="2" height="2" fill="#feb72d"/><rect x="258" y="93" width="2" height="2" fill="#fca636"/><rect x="260" y="93" width="2" height="2" fill="#cc4977"/><rect x="262" y="93" width="2" height="2" fill="#6100a7"/><rect x="264" y="93" width="2" height="2" fill="#d35171"/><rect x="266" y="93" width="2" height="2" fill="#d04d73"/><rect x="268" y="93" width="2" height="2" fill="#4c02a1"/><rect x="270" y="93" width="2" height="2" fill="#c9447a"/><rect x="272" y="93" width="2" height="2" fill="#b6308b"/><rect x="274" y="93" width="2" height="2" fill="#a01a9c"/><rect x="276" y="93" width="2" height="2" fill="#df6263"/><rect x="278" y="93" width="2" height="2" fill="#e56b5d"/><rect x="280" y="93" width="2" height="2" fill="#c8437b"/><rect x="282" y="93" width="2" height="2" fill="#d9586a"/><rect x="232" y="95" width="2" height="2" fill="#d5536f"/><rect x="234" y="95" width="2" height="2" fill="#d6556d"/><rect x="236" y="95" width="2" height="2" fill="#f2844b"/><rect x="238" y="95" width="2" height="2" fill="#f58b47"/><rect x="240" y="95" width="2" height="2" fill="#cd4a76"/><rect x="242" y="95" width="2" height="2" fill="#8a09a5"/><rect x="244" y="95" width="2" height="2" fill="#ef7c51"/><rect x="246" y="95" width="2" height="2" fill="#aa2395"/><rect x="248" y="95" width="2" height="2" fill="#ed7953"/><rect x="250" y="95" width="2" height="2" fill="#fdac33"/><rect x="252" y="95" width="2" height="2" fill="#e66c5c"/><rect x="254" y="95" width="2" height="2" fill="#a72197"/><rect x="256" y="95" width="2" height="2" fill="#a21d9a"/><rect x="258" y="95" width="2" height="2" fill="#f3854b"/><rect x="260" y="95" width="2" height="2" fill="#de5f65"/><rect x="262" y="95" width="2" height="2" fill="#e06363"/><rect x="264" y="95" width="2" height="2" fill="#ec7754"/><rect x="266" y="95" width="2" height="2" fill="#d5536f"/><rect x="268" y="95" width="2" height="2" fill="#be3885"/><rect x="270" y="95" width="2" height="2" fill="#9410a2"/><rect x="272" y="95" width="2" height="2" fill="#0d0887"/><rect x="274" y="95" width="2" height="2" fill="#7201a8"/><rect x="276" y="95" width="2" height="2" fill="#c8437b"/><rect x="278" y="95" width="2" height="2" fill="#cc4778"/><rect x="280" y="95" width="2" height="2" fill="#dc5d67"/><rect x="282" y="95" width="2" height="2" fill="#d7566c"/><rect x="232" y="97" width="2" height="2" fill="#f0804e"/><rect x="234" y="97" width="2" height="2" fill="#f79342"/><rect x="236" y="97" width="2" height="2" fill="#d5536f"/><rect x="238" y="97" width="2" height="2" fill="#da5a6a"/><rect x="240" y="97" width="2" height="2" fill="#ab2494"/><rect x="242" y="97" width="2" height="2" fill="#f58c46"/><rect x="244" y="97" width="2" height="2" fill="#ef7e50"/><rect x="246" y="97" width="2" height="2" fill="#f1814d"/><rect x="248" y="97" width="2" height="2" fill="#fca338"/><rect x="250" y="97" width="2" height="2" fill="#f89540"/><rect x="252" y="97" width="2" height="2" fill="#e26660"/><rect x="254" y="97" width="2" height="2" fill="#eb7556"/><rect x="256" y="97" width="2" height="2" fill="#99159f"/><rect x="258" y="97" width="2" height="2" fill="#e56b5d"/><rect x="260" y="97" width="2" height="2" fill="#dd5e66"/><rect x="262" y="97" width="2" height="2" fill="#9a169f"/><rect x="264" y="97" width="2" height="2" fill="#f07f4f"/><rect x="266" y="97" width="2" height="2" fill="#c43e7f"/><rect x="268" y="97" width="2" height="2" fill="#e26561"/><rect x="270" y="97" width="2" height="2" fill="#c13b82"/><rect x="272" y="97" width="2" height="2" fill="#e4695e"/><rect x="274" y="97" width="2" height="2" fill="#e97257"/><rect x="276" y="97" width="2" height="2" fill="#ab2494"/><rect x="278" y="97" width="2" height="2" fill="#7b02a8"/><rect x="280" y="97" width="2" height="2" fill="#ce4b75"/><rect x="282" y="97" width="2" height="2" fill="#ea7457"/><rect x="232" y="99" width="2" height="2" fill="#e76e5b"/><rect x="234" y="99" width="2" height="2" fill="#dc5d67"/><rect x="236" y="99" width="2" height="2" fill="#f2844b"/><rect x="238" y="99" width="2" height="2" fill="#6300a7"/><rect x="240" y="99" width="2" height="2" fill="#c9447a"/><rect x="242" y="99" width="2" height="2" fill="#bd3786"/><rect x="244" y="99" width="2" height="2" fill="#ef7e50"/><rect x="246" y="99" width="2" height="2" fill="#c6417d"/><rect x="248" y="99" width="2" height="2" fill="#bb3488"/><rect x="250" y="99" width="2" height="2" fill="#d24f71"/><rect x="252" y="99" width="2" height="2" fill="#a11b9b"/><rect x="254" y="99" width="2" height="2" fill="#db5c68"/><rect x="256" y="99" width="2" height="2" fill="#bd3786"/><rect x="258" y="99" width="2" height="2" fill="#d04d73"/><rect x="260" y="99" width="2" height="2" fill="#c9447a"/><rect x="262" y="99" width="2" height="2" fill="#e66c5c"/><rect x="264" y="99" width="2" height="2" fill="#dc5d67"/><rect x="266" y="99" width="2" height="2" fill="#e3685f"/><rect x="268" y="99" width="2" height="2" fill="#e16462"/><rect x="270" y="99" width="2" height="2" fill="#b22b8f"/><rect x="272" y="99" width="2" height="2" fill="#de5f65"/><rect x="274" y="99" width="2" height="2" fill="#dc5d67"/><rect x="276" y="99" width="2" height="2" fill="#da5a6a"/><rect x="278" y="99" width="2" height="2" fill="#c23c81"/><rect x="280" y="99" width="2" height="2" fill="#c6417d"/><rect x="282" y="99" width="2" height="2" fill="#e87059"/><rect x="232" y="101" width="2" height="2" fill="#fdca26"/><rect x="234" y="101" width="2" height="2" fill="#d8576b"/><rect x="236" y="101" width="2" height="2" fill="#f58c46"/><rect x="238" y="101" width="2" height="2" fill="#df6263"/><rect x="240" y="101" width="2" height="2" fill="#f79143"/><rect x="242" y="101" width="2" height="2" fill="#f48948"/><rect x="244" y="101" width="2" height="2" fill="#f79044"/><rect x="246" y="101" width="2" height="2" fill="#5c01a6"/><rect x="248" y="101" width="2" height="2" fill="#c6417d"/><rect x="250" y="101" width="2" height="2" fill="#b6308b"/><rect x="252" y="101" width="2" height="2" fill="#d8576b"/><rect x="254" y="101" width="2" height="2" fill="#c03a83"/><rect x="256" y="101" width="2" height="2" fill="#ca457a"/><rect x="258" y="101" width="2" height="2" fill="#ef7c51"/><rect x="260" y="101" width="2" height="2" fill="#f89540"/><rect x="262" y="101" width="2" height="2" fill="#5002a2"/><rect x="264" y="101" width="2" height="2" fill="#c5407e"/><rect x="266" y="101" width="2" height="2" fill="#df6263"/><rect x="268" y="101" width="2" height="2" fill="#d7566c"/><rect x="270" y="101" width="2" height="2" fill="#bf3984"/><rect x="272" y="101" width="2" height="2" fill="#8b0aa5"/><rect x="274" y="101" width="2" height="2" fill="#a72197"/><rect x="276" y="101" width="2" height="2" fill="#e3685f"/><rect x="278" y="101" width="2" height="2" fill="#ec7754"/><rect x="280" y="101" width="2" height="2" fill="#da5b69"/><rect x="282" y="101" width="2" height="2" fill="#b32c8e"/><rect x="232" y="103" width="2" height="2" fill="#ee7b51"/><rect x="234" y="103" width="2" height="2" fill="#e76f5a"/><rect x="236" y="103" width="2" height="2" fill="#f79044"/><rect x="238" y="103" width="2" height="2" fill="#ef7e50"/><rect x="240" y="103" width="2" height="2" fill="#d9586a"/><rect x="242" y="103" width="2" height="2" fill="#ef7c51"/><rect x="244" y="103" width="2" height="2" fill="#cc4778"/><rect x="246" y="103" width="2" height="2" fill="#f1834c"/><rect x="248" y="103" width="2" height="2" fill="#f89540"/><rect x="250" y="103" width="2" height="2" fill="#b83289"/><rect x="252" y="103" width="2" height="2" fill="#e87059"/><rect x="254" y="103" width="2" height="2" fill="#c03a83"/><rect x="256" y="103" width="2" height="2" fill="#f1834c"/><rect x="258" y="103" width="2" height="2" fill="#f3854b"/><rect x="260" y="103" width="2" height="2" fill="#e3685f"/><rect x="262" y="103" width="2" height="2" fill="#eb7655"/><rect x="264" y="103" width="2" height="2" fill="#c7427c"/><rect x="266" y="103" width="2" height="2" fill="#b52f8c"/><rect x="268" y="103" width="2" height="2" fill="#b7318a"/><rect x="270" y="103" width="2" height="2" fill="#c7427c"/><rect x="272" y="103" width="2" height="2" fill="#c9447a"/><rect x="274" y="103" width="2" height="2" fill="#d5536f"/><rect x="276" y="103" width="2" height="2" fill="#bd3786"/><rect x="278" y="103" width="2" height="2" fill="#e66c5c"/><rect x="280" y="103" width="2" height="2" fill="#ea7457"/><rect x="282" y="103" width="2" height="2" fill="#c23c81"/><rect x="232" y="105" width="2" height="2" fill="#a82296"/><rect x="234" y="105" width="2" height="2" fill="#f79143"/><rect x="236" y="105" width="2" height="2" fill="#fb9f3a"/><rect x="238" y="105" width="2" height="2" fill="#e66c5c"/><rect x="240" y="105" width="2" height="2" fill="#bc3587"/><rect x="242" y="105" width="2" height="2" fill="#f3854b"/><rect x="244" y="105" width="2" height="2" fill="#fca636"/><rect x="246" y="105" width="2" height="2" fill="#a51f99"/><rect x="248" y="105" width="2" height="2" fill="#f0804e"/><rect x="250" y="105" width="2" height="2" fill="#da5a6a"/><rect x="252" y="105" width="2" height="2" fill="#ca457a"/><rect x="254" y="105" width="2" height="2" fill="#e97257"/><rect x="256" y="105" width="2" height="2" fill="#b02991"/><rect x="258" y="105" width="2" height="2" fill="#e76f5a"/><rect x="260" y="105" width="2" height="2" fill="#f68f44"/><rect x="262" y="105" width="2" height="2" fill="#e3685f"/><rect x="264" y="105" width="2" height="2" fill="#b52f8c"/><rect x="266" y="105" width="2" height="2" fill="#7100a8"/><rect x="268" y="105" width="2" height="2" fill="#8104a7"/><rect x="270" y="105" width="2" height="2" fill="#7501a8"/><rect x="272" y="105" width="2" height="2" fill="#f07f4f"/><rect x="274" y="105" width="2" height="2" fill="#ce4b75"/><rect x="276" y="105" width="2" height="2" fill="#a11b9b"/><rect x="278" y="105" width="2" height="2" fill="#8a09a5"/><rect x="280" y="105" width="2" height="2" fill="#9c179e"/><rect x="282" y="105" width="2" height="2" fill="#c7427c"/><rect x="232" y="107" width="2" height="2" fill="#b12a90"/><rect x="234" y="107" width="2" height="2" fill="#fca934"/><rect x="236" y="107" width="2" height="2" fill="#da5a6a"/><rect x="238" y="107" width="2" height="2" fill="#ce4b75"/><rect x="240" y="107" width="2" height="2" fill="#f1834c"/><rect x="242" y="107" width="2" height="2" fill="#fdac33"/><rect x="244" y="107" width="2" height="2" fill="#fdab33"/><rect x="246" y="107" width="2" height="2" fill="#d8576b"/><rect x="248" y="107" width="2" height="2" fill="#ed7a52"/><rect x="250" y="107" width="2" height="2" fill="#ed7a52"/><rect x="252" y="107" width="2" height="2" fill="#f1814d"/><rect x="254" y="107" width="2" height="2" fill="#e87059"/><rect x="256" y="107" width="2" height="2" fill="#b22b8f"/><rect x="258" y="107" width="2" height="2" fill="#ad2793"/><rect x="260" y="107" width="2" height="2" fill="#e56b5d"/><rect x="262" y="107" width="2" height="2" fill="#b22b8f"/><rect x="264" y="107" width="2" height="2" fill="#f2844b"/><rect x="266" y="107" width="2" height="2" fill="#d5546e"/><rect x="268" y="107" width="2" height="2" fill="#b12a90"/><rect x="270" y="107" width="2" height="2" fill="#c43e7f"/><rect x="272" y="107" width="2" height="2" fill="#cc4778"/><rect x="274" y="107" width="2" height="2" fill="#d7566c"/><rect x="276" y="107" width="2" height="2" fill="#e87059"/><rect x="278" y="107" width="2" height="2" fill="#8808a6"/><rect x="280" y="107" width="2" height="2" fill="#6900a8"/><rect x="282" y="107" width="2" height="2" fill="#e06363"/><rect x="232" y="109" width="2" height="2" fill="#df6263"/><rect x="234" y="109" width="2" height="2" fill="#f0804e"/><rect x="236" y="109" width="2" height="2" fill="#f07f4f"/><rect x="238" y="109" width="2" height="2" fill="#e56b5d"/><rect x="240" y="109" width="2" height="2" fill="#f79143"/><rect x="242" y="109" width="2" height="2" fill="#da5a6a"/><rect x="244" y="109" width="2" height="2" fill="#ee7b51"/><rect x="246" y="109" width="2" height="2" fill="#c8437b"/><rect x="248" y="109" width="2" height="2" fill="#c13b82"/><rect x="250" y="109" width="2" height="2" fill="#f48849"/><rect x="252" y="109" width="2" height="2" fill="#f48948"/><rect x="254" y="109" width="2" height="2" fill="#9410a2"/><rect x="256" y="109" width="2" height="2" fill="#b52f8c"/><rect x="258" y="109" width="2" height="2" fill="#e97158"/><rect x="260" y="109" width="2" height="2" fill="#f3874a"/><rect x="262" y="109" width="2" height="2" fill="#cc4778"/><rect x="264" y="109" width="2" height="2" fill="#dc5d67"/><rect x="266" y="109" width="2" height="2" fill="#ab2494"/><rect x="268" y="109" width="2" height="2" fill="#fdab33"/><rect x="270" y="109" width="2" height="2" fill="#ea7457"/><rect x="272" y="109" width="2" height="2" fill="#eb7655"/><rect x="274" y="109" width="2" height="2" fill="#ea7457"/><rect x="276" y="109" width="2" height="2" fill="#ed7953"/><rect x="278" y="109" width="2" height="2" fill="#e3685f"/><rect x="280" y="109" width="2" height="2" fill="#cd4a76"/><rect x="282" y="109" width="2" height="2" fill="#eb7655"/><rect x="232" y="111" width="2" height="2" fill="#ed7a52"/><rect x="234" y="111" width="2" height="2" fill="#f99a3e"/><rect x="236" y="111" width="2" height="2" fill="#d35171"/><rect x="238" y="111" width="2" height="2" fill="#d45270"/><rect x="240" y="111" width="2" height="2" fill="#f58b47"/><rect x="242" y="111" width="2" height="2" fill="#fa9e3b"/><rect x="244" y="111" width="2" height="2" fill="#f0804e"/><rect x="246" y="111" width="2" height="2" fill="#cf4c74"/><rect x="248" y="111" width="2" height="2" fill="#e76e5b"/><rect x="250" y="111" width="2" height="2" fill="#e76f5a"/><rect x="252" y="111" width="2" height="2" fill="#febb2b"/><rect x="254" y="111" width="2" height="2" fill="#f99a3e"/><rect x="256" y="111" width="2" height="2" fill="#fa9b3d"/><rect x="258" y="111" width="2" height="2" fill="#ef7c51"/><rect x="260" y="111" width="2" height="2" fill="#d8576b"/><rect x="262" y="111" width="2" height="2" fill="#f79044"/><rect x="264" y="111" width="2" height="2" fill="#fa9b3d"/><rect x="266" y="111" width="2" height="2" fill="#eb7556"/><rect x="268" y="111" width="2" height="2" fill="#e3685f"/><rect x="270" y="111" width="2" height="2" fill="#f07f4f"/><rect x="272" y="111" width="2" height="2" fill="#d9586a"/><rect x="274" y="111" width="2" height="2" fill="#e97257"/><rect x="276" y="111" width="2" height="2" fill="#c13b82"/><rect x="278" y="111" width="2" height="2" fill="#b6308b"/><rect x="280" y="111" width="2" height="2" fill="#e76e5b"/><rect x="282" y="111" width="2" height="2" fill="#e4695e"/><rect x="232" y="113" width="2" height="2" fill="#fdb42f"/><rect x="234" y="113" width="2" height="2" fill="#e87059"/><rect x="236" y="113" width="2" height="2" fill="#e26561"/><rect x="238" y="113" width="2" height="2" fill="#b52f8c"/><rect x="240" y="113" width="2" height="2" fill="#8808a6"/><rect x="242" y="113" width="2" height="2" fill="#a72197"/><rect x="244" y="113" width="2" height="2" fill="#f1814d"/><rect x="246" y="113" width="2" height="2" fill="#c6417d"/><rect x="248" y="113" width="2" height="2" fill="#fca537"/><rect x="250" y="113" width="2" height="2" fill="#fdac33"/><rect x="252" y="113" width="2" height="2" fill="#ef7e50"/><rect x="254" y="113" width="2" height="2" fill="#fdae32"/><rect x="256" y="113" width="2" height="2" fill="#f1834c"/><rect x="258" y="113" width="2" height="2" fill="#f79044"/><rect x="260" y="113" width="2" height="2" fill="#e26561"/><rect x="262" y="113" width="2" height="2" fill="#f48948"/><rect x="264" y="113" width="2" height="2" fill="#ca457a"/><rect x="266" y="113" width="2" height="2" fill="#eb7556"/><rect x="268" y="113" width="2" height="2" fill="#cb4679"/><rect x="270" y="113" width="2" height="2" fill="#d9586a"/><rect x="272" y="113" width="2" height="2" fill="#e76f5a"/><rect x="274" y="113" width="2" height="2" fill="#e26660"/><rect x="276" y="113" width="2" height="2" fill="#db5c68"/><rect x="278" y="113" width="2" height="2" fill="#e97257"/><rect x="280" y="113" width="2" height="2" fill="#ec7754"/><rect x="282" y="113" width="2" height="2" fill="#9c179e"/><rect x="232" y="115" width="2" height="2" fill="#f3854b"/><rect x="234" y="115" width="2" height="2" fill="#f2844b"/><rect x="236" y="115" width="2" height="2" fill="#cd4a76"/><rect x="238" y="115" width="2" height="2" fill="#eb7556"/><rect x="240" y="115" width="2" height="2" fill="#bc3587"/><rect x="242" y="115" width="2" height="2" fill="#fa9e3b"/><rect x="244" y="115" width="2" height="2" fill="#eb7655"/><rect x="246" y="115" width="2" height="2" fill="#ea7457"/><rect x="248" y="115" width="2" height="2" fill="#fdab33"/><rect x="250" y="115" width="2" height="2" fill="#ec7754"/><rect x="252" y="115" width="2" height="2" fill="#f2844b"/><rect x="254" y="115" width="2" height="2" fill="#c7427c"/><rect x="256" y="115" width="2" height="2" fill="#d5536f"/><rect x="258" y="115" width="2" height="2" fill="#b12a90"/><rect x="260" y="115" width="2" height="2" fill="#dc5d67"/><rect x="262" y="115" width="2" height="2" fill="#f48849"/><rect x="264" y="115" width="2" height="2" fill="#e87059"/><rect x="266" y="115" width="2" height="2" fill="#ef7e50"/><rect x="268" y="115" width="2" height="2" fill="#ad2793"/><rect x="270" y="115" width="2" height="2" fill="#ab2494"/><rect x="272" y="115" width="2" height="2" fill="#c8437b"/><rect x="274" y="115" width="2" height="2" fill="#e87059"/><rect x="276" y="115" width="2" height="2" fill="#e56b5d"/><rect x="278" y="115" width="2" height="2" fill="#e06363"/><rect x="280" y="115" width="2" height="2" fill="#e97257"/><rect x="282" y="115" width="2" height="2" fill="#ce4b75"/><rect x="232" y="117" width="2" height="2" fill="#e76e5b"/><rect x="234" y="117" width="2" height="2" fill="#f9983e"/><rect x="236" y="117" width="2" height="2" fill="#d24f71"/><rect x="238" y="117" width="2" height="2" fill="#ed7953"/><rect x="240" y="117" width="2" height="2" fill="#fca934"/><rect x="242" y="117" width="2" height="2" fill="#f1814d"/><rect x="244" y="117" width="2" height="2" fill="#f68d45"/><rect x="246" y="117" width="2" height="2" fill="#de6164"/><rect x="248" y="117" width="2" height="2" fill="#febd2a"/><rect x="250" y="117" width="2" height="2" fill="#7b02a8"/><rect x="252" y="117" width="2" height="2" fill="#ae2892"/><rect x="254" y="117" width="2" height="2" fill="#bc3587"/><rect x="256" y="117" width="2" height="2" fill="#fca835"/><rect x="258" y="117" width="2" height="2" fill="#ed7a52"/><rect x="260" y="117" width="2" height="2" fill="#d7566c"/><rect x="262" y="117" width="2" height="2" fill="#ac2694"/><rect x="264" y="117" width="2" height="2" fill="#e76f5a"/><rect x="266" y="117" width="2" height="2" fill="#e3685f"/><rect x="268" y="117" width="2" height="2" fill="#b6308b"/><rect x="270" y="117" width="2" height="2" fill="#8004a8"/><rect x="272" y="117" width="2" height="2" fill="#a01a9c"/><rect x="274" y="117" width="2" height="2" fill="#e26561"/><rect x="276" y="117" width="2" height="2" fill="#e56b5d"/><rect x="278" y="117" width="2" height="2" fill="#df6263"/><rect x="280" y="117" width="2" height="2" fill="#d45270"/><rect x="282" y="117" width="2" height="2" fill="#6f00a8"/></g></g><g fill="none" stroke="#000" stroke-width="1" shape-rendering="crispEdges"><rect x="231.5" y="66.5" width="53" height="63"/><line x1="231.5" y1="118.5" x2="284.5" y2="118.5"/></g><rect x="232" y="119" width="52" height="10" fill="#fff"/><text x="258" y="127.3" text-anchor="middle" font-size="8.8" fill="#000">280–315 eV</text>
</svg></body></html>
